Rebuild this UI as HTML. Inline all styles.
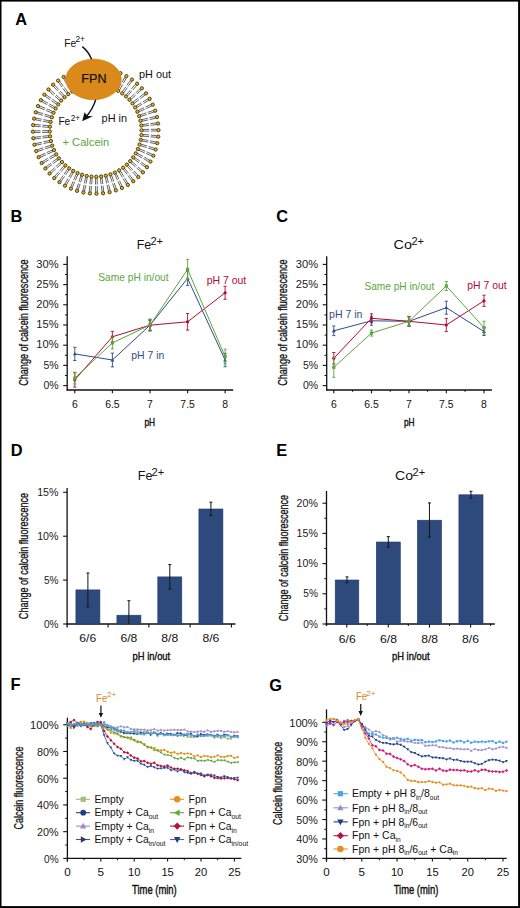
<!DOCTYPE html>
<html><head><meta charset="utf-8"><style>
html,body{margin:0;padding:0;background:#fff;}
svg{display:block;font-family:"Liberation Sans", sans-serif;}
</style></head><body>
<svg width="520" height="908" viewBox="0 0 520 908">
<rect x="0" y="0" width="520" height="908" fill="#000"/><rect x="1.5" y="1.6" width="516.6" height="904.5" fill="#fff"/>
<text x="15.3" y="24.7" font-size="15.7" fill="#000" font-weight="bold" textLength="11.83" lengthAdjust="spacingAndGlyphs">A</text>
<text x="10.5" y="222.2" font-size="15.7" fill="#000" font-weight="bold" textLength="11.83" lengthAdjust="spacingAndGlyphs">B</text>
<text x="276.2" y="222.2" font-size="15.7" fill="#000" font-weight="bold" textLength="11.83" lengthAdjust="spacingAndGlyphs">C</text>
<text x="10.8" y="456.2" font-size="15.7" fill="#000" font-weight="bold" textLength="11.83" lengthAdjust="spacingAndGlyphs">D</text>
<text x="276.2" y="456.2" font-size="15.7" fill="#000" font-weight="bold" textLength="10.93" lengthAdjust="spacingAndGlyphs">E</text>
<text x="10.6" y="690.3" font-size="15.7" fill="#000" font-weight="bold" textLength="10.01" lengthAdjust="spacingAndGlyphs">F</text>
<text x="269.3" y="690.9" font-size="15.7" fill="#000" font-weight="bold" textLength="12.74" lengthAdjust="spacingAndGlyphs">G</text>
<path d="M156.88 129.27L150.88 129.35M156.91 130.97L150.91 131.05M149.28 129.37L143.09 129.45M149.31 131.07L143.11 131.15M156.72 135.67L150.74 135.12M156.56 137.37L150.59 136.82M149.15 134.98L142.98 134.41M149 136.67L142.82 136.1M155.89 142.03L150 140.85M155.55 143.69L149.67 142.52M148.43 140.54L142.35 139.33M148.1 142.21L142.02 141M154.39 148.26L148.66 146.48M153.89 149.88L148.16 148.1M147.14 146L141.22 144.16M146.63 147.62L140.71 145.78M152.26 154.3L146.75 151.93M151.59 155.86L146.07 153.49M145.28 151.29L139.58 148.85M144.6 152.86L138.91 150.41M149.5 160.08L144.27 157.15M148.67 161.56L143.44 158.63M142.87 156.36L137.46 153.33M142.04 157.85L136.63 154.82M146.16 165.54L141.26 162.08M145.18 166.93L140.28 163.47M139.95 161.16L134.89 157.58M138.97 162.54L133.91 158.96M142.26 170.63L137.75 166.67M141.14 171.91L136.63 167.95M136.55 165.62L131.89 161.53M135.43 166.89L130.77 162.8M137.85 175.28L133.78 170.87M136.6 176.43L132.53 172.02M132.69 169.7L128.49 165.14M131.45 170.85L127.24 166.29M132.98 179.44L129.39 174.63M131.62 180.46L128.03 175.65M128.44 173.35L124.73 168.38M127.07 174.37L123.37 169.4M127.7 183.07L124.64 177.91M126.24 183.94L123.18 178.78M123.82 176.54L120.65 171.21M122.36 177.41L119.19 172.08M122.07 186.13L119.56 180.68M120.53 186.84L118.02 181.39M118.9 179.23L116.3 173.6M117.35 179.94L114.76 174.31M116.16 188.59L114.23 182.9M114.55 189.13L112.62 183.45M113.72 181.39L111.73 175.52M112.11 181.93L110.12 176.06M110.01 190.41L108.69 184.56M108.36 190.78L107.03 184.93M108.34 183L106.97 176.95M106.68 183.37L105.32 177.32M103.72 191.58L103.01 185.62M102.03 191.78L101.32 185.82M102.83 184.03L102.1 177.87M101.14 184.23L100.41 178.07M97.33 192.08L97.25 186.08M95.63 192.11L95.55 186.11M97.23 184.48L97.15 178.29M95.53 184.51L95.45 178.31M90.93 191.92L91.48 185.94M89.23 191.76L89.78 185.79M91.62 184.35L92.19 178.18M89.93 184.2L90.5 178.02M84.57 191.09L85.75 185.2M82.91 190.75L84.08 184.87M86.06 183.63L87.27 177.55M84.39 183.3L85.6 177.22M78.34 189.59L80.12 183.86M76.72 189.09L78.5 183.36M80.6 182.34L82.44 176.42M78.98 181.83L80.82 175.91M72.3 187.46L74.67 181.95M70.74 186.79L73.11 181.27M75.31 180.48L77.75 174.78M73.74 179.8L76.19 174.11M66.52 184.7L69.45 179.47M65.04 183.87L67.97 178.64M70.24 178.07L73.27 172.66M68.75 177.24L71.78 171.83M61.06 181.36L64.52 176.46M59.67 180.38L63.13 175.48M65.44 175.15L69.02 170.09M64.06 174.17L67.64 169.11M55.97 177.46L59.93 172.95M54.69 176.34L58.65 171.83M60.98 171.75L65.07 167.09M59.71 170.63L63.8 165.97M51.32 173.05L55.73 168.98M50.17 171.8L54.58 167.73M56.9 167.89L61.46 163.69M55.75 166.65L60.31 162.44M47.16 168.18L51.97 164.59M46.14 166.82L50.95 163.23M53.25 163.64L58.22 159.93M52.23 162.27L57.2 158.57M43.53 162.9L48.69 159.84M42.66 161.44L47.82 158.38M50.06 159.02L55.39 155.85M49.19 157.56L54.52 154.39M40.47 157.27L45.92 154.76M39.76 155.73L45.21 153.22M47.37 154.1L53 151.5M46.66 152.55L52.29 149.96M38.01 151.36L43.7 149.43M37.47 149.75L43.15 147.82M45.21 148.92L51.08 146.93M44.67 147.31L50.54 145.32M36.19 145.21L42.04 143.89M35.82 143.56L41.67 142.23M43.6 143.54L49.65 142.17M43.23 141.88L49.28 140.52M35.02 138.92L40.98 138.21M34.82 137.23L40.78 136.52M42.57 138.03L48.73 137.3M42.37 136.34L48.53 135.61M34.52 132.53L40.52 132.45M34.49 130.83L40.49 130.75M42.12 132.43L48.31 132.35M42.09 130.73L48.29 130.65M34.68 126.13L40.66 126.68M34.84 124.43L40.81 124.98M42.25 126.82L48.42 127.39M42.4 125.13L48.58 125.7M35.51 119.77L41.4 120.95M35.85 118.11L41.73 119.28M42.97 121.26L49.05 122.47M43.3 119.59L49.38 120.8M37.01 113.54L42.74 115.32M37.51 111.92L43.24 113.7M44.26 115.8L50.18 117.64M44.77 114.18L50.69 116.02M39.14 107.5L44.65 109.87M39.81 105.94L45.33 108.31M46.12 110.51L51.82 112.95M46.8 108.94L52.49 111.39M41.9 101.72L47.13 104.65M42.73 100.24L47.96 103.17M48.53 105.44L53.94 108.47M49.36 103.95L54.77 106.98M45.24 96.26L50.14 99.72M46.22 94.87L51.12 98.33M51.45 100.64L56.51 104.22M52.43 99.26L57.49 102.84M49.14 91.17L53.65 95.13M50.26 89.89L54.77 93.85M54.85 96.18L59.51 100.27M55.97 94.91L60.63 99M53.55 86.52L57.62 90.93M54.8 85.37L58.87 89.78M58.71 92.1L62.91 96.66M59.95 90.95L64.16 95.51M58.42 82.36L62.01 87.17M59.78 81.34L63.37 86.15M62.96 88.45L66.67 93.42M64.33 87.43L68.03 92.4M63.7 78.73L66.76 83.89M65.16 77.86L68.22 83.02M67.58 85.26L70.75 90.59M69.04 84.39L72.21 89.72M69.33 75.67L71.84 81.12M70.87 74.96L73.38 80.41M72.5 82.57L75.1 88.2M74.05 81.86L76.64 87.49M75.24 73.21L77.17 78.9M76.85 72.67L78.78 78.35M77.68 80.41L79.67 86.28M79.29 79.87L81.28 85.74M81.39 71.39L82.71 77.24M83.04 71.02L84.37 76.87M83.06 78.8L84.43 84.85M84.72 78.43L86.08 84.48M87.68 70.22L88.39 76.18M89.37 70.02L90.08 75.98M88.57 77.77L89.3 83.93M90.26 77.57L90.99 83.73M94.07 69.72L94.15 75.72M95.77 69.69L95.85 75.69M94.17 77.32L94.25 83.51M95.87 77.29L95.95 83.49M100.47 69.88L99.92 75.86M102.17 70.04L101.62 76.01M99.78 77.45L99.21 83.62M101.47 77.6L100.9 83.78M106.83 70.71L105.65 76.6M108.49 71.05L107.32 76.93M105.34 78.17L104.13 84.25M107.01 78.5L105.8 84.58M113.06 72.21L111.28 77.94M114.68 72.71L112.9 78.44M110.8 79.46L108.96 85.38M112.42 79.97L110.58 85.89M119.1 74.34L116.73 79.85M120.66 75.01L118.29 80.53M116.09 81.32L113.65 87.02M117.66 82L115.21 87.69M124.88 77.1L121.95 82.33M126.36 77.93L123.43 83.16M121.16 83.73L118.13 89.14M122.65 84.56L119.62 89.97M130.34 80.44L126.88 85.34M131.73 81.42L128.27 86.32M125.96 86.65L122.38 91.71M127.34 87.63L123.76 92.69M135.43 84.34L131.47 88.85M136.71 85.46L132.75 89.97M130.42 90.05L126.33 94.71M131.69 91.17L127.6 95.83M140.08 88.75L135.67 92.82M141.23 90L136.82 94.07M134.5 93.91L129.94 98.11M135.65 95.15L131.09 99.36M144.24 93.62L139.43 97.21M145.26 94.98L140.45 98.57M138.15 98.16L133.18 101.87M139.17 99.53L134.2 103.23M147.87 98.9L142.71 101.96M148.74 100.36L143.58 103.42M141.34 102.78L136.01 105.95M142.21 104.24L136.88 107.41M150.93 104.53L145.48 107.04M151.64 106.07L146.19 108.58M144.03 107.7L138.4 110.3M144.74 109.25L139.11 111.84M153.39 110.44L147.7 112.37M153.93 112.05L148.25 113.98M146.19 112.88L140.32 114.87M146.73 114.49L140.86 116.48M155.21 116.59L149.36 117.91M155.58 118.24L149.73 119.57M147.8 118.26L141.75 119.63M148.17 119.92L142.12 121.28M156.38 122.88L150.42 123.59M156.58 124.57L150.62 125.28M148.83 123.77L142.67 124.5M149.03 125.46L142.87 126.19" stroke="#333" stroke-width="0.75" fill="none"/>
<g fill="#efb400" stroke="#141414" stroke-width="0.75"><circle cx="158.49" cy="130.1" r="1.65"/><circle cx="141.6" cy="130.32" r="1.65"/><circle cx="158.23" cy="136.67" r="1.65"/><circle cx="141.41" cy="135.12" r="1.65"/><circle cx="157.29" cy="143.17" r="1.65"/><circle cx="140.71" cy="139.87" r="1.65"/><circle cx="155.67" cy="149.54" r="1.65"/><circle cx="139.53" cy="144.53" r="1.65"/><circle cx="153.39" cy="155.71" r="1.65"/><circle cx="137.87" cy="149.03" r="1.65"/><circle cx="150.48" cy="161.6" r="1.65"/><circle cx="135.74" cy="153.34" r="1.65"/><circle cx="146.97" cy="167.16" r="1.65"/><circle cx="133.17" cy="157.4" r="1.65"/><circle cx="142.9" cy="172.32" r="1.65"/><circle cx="130.2" cy="161.18" r="1.65"/><circle cx="138.31" cy="177.03" r="1.65"/><circle cx="126.85" cy="164.62" r="1.65"/><circle cx="133.26" cy="181.23" r="1.65"/><circle cx="123.15" cy="167.69" r="1.65"/><circle cx="127.79" cy="184.88" r="1.65"/><circle cx="119.15" cy="170.35" r="1.65"/><circle cx="121.97" cy="187.94" r="1.65"/><circle cx="114.9" cy="172.59" r="1.65"/><circle cx="115.87" cy="190.37" r="1.65"/><circle cx="110.44" cy="174.37" r="1.65"/><circle cx="109.54" cy="192.16" r="1.65"/><circle cx="105.81" cy="175.67" r="1.65"/><circle cx="103.06" cy="193.27" r="1.65"/><circle cx="101.08" cy="176.48" r="1.65"/><circle cx="96.5" cy="193.69" r="1.65"/><circle cx="96.28" cy="176.8" r="1.65"/><circle cx="89.93" cy="193.43" r="1.65"/><circle cx="91.48" cy="176.61" r="1.65"/><circle cx="83.43" cy="192.49" r="1.65"/><circle cx="86.73" cy="175.91" r="1.65"/><circle cx="77.06" cy="190.87" r="1.65"/><circle cx="82.07" cy="174.73" r="1.65"/><circle cx="70.89" cy="188.59" r="1.65"/><circle cx="77.57" cy="173.07" r="1.65"/><circle cx="65" cy="185.68" r="1.65"/><circle cx="73.26" cy="170.94" r="1.65"/><circle cx="59.44" cy="182.17" r="1.65"/><circle cx="69.2" cy="168.37" r="1.65"/><circle cx="54.28" cy="178.1" r="1.65"/><circle cx="65.42" cy="165.4" r="1.65"/><circle cx="49.57" cy="173.51" r="1.65"/><circle cx="61.98" cy="162.05" r="1.65"/><circle cx="45.37" cy="168.46" r="1.65"/><circle cx="58.91" cy="158.35" r="1.65"/><circle cx="41.72" cy="162.99" r="1.65"/><circle cx="56.25" cy="154.35" r="1.65"/><circle cx="38.66" cy="157.17" r="1.65"/><circle cx="54.01" cy="150.1" r="1.65"/><circle cx="36.23" cy="151.07" r="1.65"/><circle cx="52.23" cy="145.64" r="1.65"/><circle cx="34.44" cy="144.74" r="1.65"/><circle cx="50.93" cy="141.01" r="1.65"/><circle cx="33.33" cy="138.26" r="1.65"/><circle cx="50.12" cy="136.28" r="1.65"/><circle cx="32.91" cy="131.7" r="1.65"/><circle cx="49.8" cy="131.48" r="1.65"/><circle cx="33.17" cy="125.13" r="1.65"/><circle cx="49.99" cy="126.68" r="1.65"/><circle cx="34.11" cy="118.63" r="1.65"/><circle cx="50.69" cy="121.93" r="1.65"/><circle cx="35.73" cy="112.26" r="1.65"/><circle cx="51.87" cy="117.27" r="1.65"/><circle cx="38.01" cy="106.09" r="1.65"/><circle cx="53.53" cy="112.77" r="1.65"/><circle cx="40.92" cy="100.2" r="1.65"/><circle cx="55.66" cy="108.46" r="1.65"/><circle cx="44.43" cy="94.64" r="1.65"/><circle cx="58.23" cy="104.4" r="1.65"/><circle cx="48.5" cy="89.48" r="1.65"/><circle cx="61.2" cy="100.62" r="1.65"/><circle cx="53.09" cy="84.77" r="1.65"/><circle cx="64.55" cy="97.18" r="1.65"/><circle cx="58.14" cy="80.57" r="1.65"/><circle cx="68.25" cy="94.11" r="1.65"/><circle cx="63.61" cy="76.92" r="1.65"/><circle cx="72.25" cy="91.45" r="1.65"/><circle cx="69.43" cy="73.86" r="1.65"/><circle cx="76.5" cy="89.21" r="1.65"/><circle cx="75.53" cy="71.43" r="1.65"/><circle cx="80.96" cy="87.43" r="1.65"/><circle cx="81.86" cy="69.64" r="1.65"/><circle cx="85.59" cy="86.13" r="1.65"/><circle cx="88.34" cy="68.53" r="1.65"/><circle cx="90.32" cy="85.32" r="1.65"/><circle cx="94.9" cy="68.11" r="1.65"/><circle cx="95.12" cy="85" r="1.65"/><circle cx="101.47" cy="68.37" r="1.65"/><circle cx="99.92" cy="85.19" r="1.65"/><circle cx="107.97" cy="69.31" r="1.65"/><circle cx="104.67" cy="85.89" r="1.65"/><circle cx="114.34" cy="70.93" r="1.65"/><circle cx="109.33" cy="87.07" r="1.65"/><circle cx="120.51" cy="73.21" r="1.65"/><circle cx="113.83" cy="88.73" r="1.65"/><circle cx="126.4" cy="76.12" r="1.65"/><circle cx="118.14" cy="90.86" r="1.65"/><circle cx="131.96" cy="79.63" r="1.65"/><circle cx="122.2" cy="93.43" r="1.65"/><circle cx="137.12" cy="83.7" r="1.65"/><circle cx="125.98" cy="96.4" r="1.65"/><circle cx="141.83" cy="88.29" r="1.65"/><circle cx="129.42" cy="99.75" r="1.65"/><circle cx="146.03" cy="93.34" r="1.65"/><circle cx="132.49" cy="103.45" r="1.65"/><circle cx="149.68" cy="98.81" r="1.65"/><circle cx="135.15" cy="107.45" r="1.65"/><circle cx="152.74" cy="104.63" r="1.65"/><circle cx="137.39" cy="111.7" r="1.65"/><circle cx="155.17" cy="110.73" r="1.65"/><circle cx="139.17" cy="116.16" r="1.65"/><circle cx="156.96" cy="117.06" r="1.65"/><circle cx="140.47" cy="120.79" r="1.65"/><circle cx="158.07" cy="123.54" r="1.65"/><circle cx="141.28" cy="125.52" r="1.65"/></g>
<ellipse cx="93.5" cy="79.4" rx="27.8" ry="20.3" fill="#da891b" stroke="#d3810f" stroke-width="0.6"/>
<text x="93.9" y="83.3" font-size="12.3" fill="#111" text-anchor="middle" textLength="25.2" lengthAdjust="spacingAndGlyphs" stroke="#111" stroke-width="0.2">FPN</text>
<path d="M82.3 46.6 Q88.5 51.5 91.6 59.3" stroke="#111" stroke-width="1.5" fill="none"/>
<path d="M95.7 99.6 Q93 109 85.5 117.5" stroke="#111" stroke-width="1.5" fill="none"/>
<path d="M82.2 121.2 L84.5 112.2 L87.4 116.0 L92.9 116.2 Z" fill="#111"/>
<text x="64.3" y="46.5" font-size="10.2" fill="#111">Fe</text>
<text x="75.4" y="42.4" font-size="8.4" fill="#111">2+</text>
<text x="58.4" y="124.5" font-size="10.2" fill="#111">Fe</text>
<text x="70.7" y="120.8" font-size="8.4" fill="#111">2+</text>
<text x="139" y="77.8" font-size="10.3" fill="#111" textLength="32" lengthAdjust="spacingAndGlyphs">pH out</text>
<text x="101.6" y="122.1" font-size="10.5" fill="#111" textLength="25.4" lengthAdjust="spacingAndGlyphs">pH in</text>
<text x="62.5" y="145.5" font-size="10.9" fill="#5aa53c" textLength="46.8" lengthAdjust="spacingAndGlyphs">+ Calcein</text>
<line x1="67.2" y1="256.3" x2="67.2" y2="390.6" stroke="#111" stroke-width="1.3"/>
<line x1="66.6" y1="390" x2="233.2" y2="390" stroke="#111" stroke-width="1.3"/>
<line x1="63.2" y1="385.6" x2="67.2" y2="385.6" stroke="#111" stroke-width="1.1"/>
<text x="58.6" y="388.7" font-size="10.3" fill="#1a1a1a" text-anchor="end" textLength="15.2" lengthAdjust="spacingAndGlyphs">0%</text>
<line x1="63.2" y1="365.4" x2="67.2" y2="365.4" stroke="#111" stroke-width="1.1"/>
<text x="58.6" y="368.5" font-size="10.3" fill="#1a1a1a" text-anchor="end" textLength="15.2" lengthAdjust="spacingAndGlyphs">5%</text>
<line x1="63.2" y1="345.2" x2="67.2" y2="345.2" stroke="#111" stroke-width="1.1"/>
<text x="58.6" y="348.3" font-size="10.3" fill="#1a1a1a" text-anchor="end" textLength="22.3" lengthAdjust="spacingAndGlyphs">10%</text>
<line x1="63.2" y1="325" x2="67.2" y2="325" stroke="#111" stroke-width="1.1"/>
<text x="58.6" y="328.1" font-size="10.3" fill="#1a1a1a" text-anchor="end" textLength="22.3" lengthAdjust="spacingAndGlyphs">15%</text>
<line x1="63.2" y1="304.8" x2="67.2" y2="304.8" stroke="#111" stroke-width="1.1"/>
<text x="58.6" y="307.9" font-size="10.3" fill="#1a1a1a" text-anchor="end" textLength="22.3" lengthAdjust="spacingAndGlyphs">20%</text>
<line x1="63.2" y1="284.6" x2="67.2" y2="284.6" stroke="#111" stroke-width="1.1"/>
<text x="58.6" y="287.7" font-size="10.3" fill="#1a1a1a" text-anchor="end" textLength="22.3" lengthAdjust="spacingAndGlyphs">25%</text>
<line x1="63.2" y1="264.4" x2="67.2" y2="264.4" stroke="#111" stroke-width="1.1"/>
<text x="58.6" y="267.5" font-size="10.3" fill="#1a1a1a" text-anchor="end" textLength="22.3" lengthAdjust="spacingAndGlyphs">30%</text>
<line x1="65" y1="375.5" x2="67.2" y2="375.5" stroke="#111" stroke-width="1"/>
<line x1="65" y1="355.3" x2="67.2" y2="355.3" stroke="#111" stroke-width="1"/>
<line x1="65" y1="335.1" x2="67.2" y2="335.1" stroke="#111" stroke-width="1"/>
<line x1="65" y1="314.9" x2="67.2" y2="314.9" stroke="#111" stroke-width="1"/>
<line x1="65" y1="294.7" x2="67.2" y2="294.7" stroke="#111" stroke-width="1"/>
<line x1="65" y1="274.5" x2="67.2" y2="274.5" stroke="#111" stroke-width="1"/>
<line x1="74.8" y1="390" x2="74.8" y2="393.3" stroke="#111" stroke-width="1.1"/>
<text x="74.8" y="407.6" font-size="10.4" fill="#111" text-anchor="middle">6</text>
<line x1="112.4" y1="390" x2="112.4" y2="393.3" stroke="#111" stroke-width="1.1"/>
<text x="112.4" y="407.6" font-size="10.4" fill="#111" text-anchor="middle">6.5</text>
<line x1="150" y1="390" x2="150" y2="393.3" stroke="#111" stroke-width="1.1"/>
<text x="150" y="407.6" font-size="10.4" fill="#111" text-anchor="middle">7</text>
<line x1="187.6" y1="390" x2="187.6" y2="393.3" stroke="#111" stroke-width="1.1"/>
<text x="187.6" y="407.6" font-size="10.4" fill="#111" text-anchor="middle">7.5</text>
<line x1="225.1" y1="390" x2="225.1" y2="393.3" stroke="#111" stroke-width="1.1"/>
<text x="225.1" y="407.6" font-size="10.4" fill="#111" text-anchor="middle">8</text>
<polyline points="74.8,353.9 112.4,360 150,325.2 187.6,278.4 225.1,360" fill="none" stroke="#2f4c8c" stroke-width="1" stroke-linejoin="round"/>
<line x1="74.8" y1="347.3" x2="74.8" y2="360.5" stroke="#2f4c8c" stroke-width="0.9"/>
<line x1="73.2" y1="347.3" x2="76.4" y2="347.3" stroke="#2f4c8c" stroke-width="0.9"/>
<line x1="73.2" y1="360.5" x2="76.4" y2="360.5" stroke="#2f4c8c" stroke-width="0.9"/>
<path d="M74.8 351.9L76.7 355.3L72.9 355.3Z" fill="#2f4c8c"/>
<line x1="112.4" y1="353.1" x2="112.4" y2="366.9" stroke="#2f4c8c" stroke-width="0.9"/>
<line x1="110.8" y1="353.1" x2="114" y2="353.1" stroke="#2f4c8c" stroke-width="0.9"/>
<line x1="110.8" y1="366.9" x2="114" y2="366.9" stroke="#2f4c8c" stroke-width="0.9"/>
<path d="M112.4 358L114.3 361.4L110.5 361.4Z" fill="#2f4c8c"/>
<line x1="150" y1="319.7" x2="150" y2="330.7" stroke="#2f4c8c" stroke-width="0.9"/>
<line x1="148.4" y1="319.7" x2="151.6" y2="319.7" stroke="#2f4c8c" stroke-width="0.9"/>
<line x1="148.4" y1="330.7" x2="151.6" y2="330.7" stroke="#2f4c8c" stroke-width="0.9"/>
<path d="M150 323.2L151.9 326.6L148.1 326.6Z" fill="#2f4c8c"/>
<line x1="187.6" y1="271.4" x2="187.6" y2="285.4" stroke="#2f4c8c" stroke-width="0.9"/>
<line x1="186" y1="271.4" x2="189.2" y2="271.4" stroke="#2f4c8c" stroke-width="0.9"/>
<line x1="186" y1="285.4" x2="189.2" y2="285.4" stroke="#2f4c8c" stroke-width="0.9"/>
<path d="M187.6 276.4L189.5 279.8L185.7 279.8Z" fill="#2f4c8c"/>
<line x1="225.1" y1="353.3" x2="225.1" y2="366.7" stroke="#2f4c8c" stroke-width="0.9"/>
<line x1="223.5" y1="353.3" x2="226.7" y2="353.3" stroke="#2f4c8c" stroke-width="0.9"/>
<line x1="223.5" y1="366.7" x2="226.7" y2="366.7" stroke="#2f4c8c" stroke-width="0.9"/>
<path d="M225.1 358L227 361.4L223.2 361.4Z" fill="#2f4c8c"/>
<polyline points="74.8,379.9 112.4,336.8 150,325.2 187.6,321.8 225.1,292.8" fill="none" stroke="#b30a34" stroke-width="1" stroke-linejoin="round"/>
<line x1="74.8" y1="372.7" x2="74.8" y2="387.1" stroke="#b30a34" stroke-width="0.9"/>
<line x1="73.2" y1="372.7" x2="76.4" y2="372.7" stroke="#b30a34" stroke-width="0.9"/>
<line x1="73.2" y1="387.1" x2="76.4" y2="387.1" stroke="#b30a34" stroke-width="0.9"/>
<circle cx="74.8" cy="379.9" r="1.6" fill="#b30a34"/>
<line x1="112.4" y1="331.4" x2="112.4" y2="342.2" stroke="#b30a34" stroke-width="0.9"/>
<line x1="110.8" y1="331.4" x2="114" y2="331.4" stroke="#b30a34" stroke-width="0.9"/>
<line x1="110.8" y1="342.2" x2="114" y2="342.2" stroke="#b30a34" stroke-width="0.9"/>
<circle cx="112.4" cy="336.8" r="1.6" fill="#b30a34"/>
<line x1="150" y1="320.2" x2="150" y2="330.2" stroke="#b30a34" stroke-width="0.9"/>
<line x1="148.4" y1="320.2" x2="151.6" y2="320.2" stroke="#b30a34" stroke-width="0.9"/>
<line x1="148.4" y1="330.2" x2="151.6" y2="330.2" stroke="#b30a34" stroke-width="0.9"/>
<circle cx="150" cy="325.2" r="1.6" fill="#b30a34"/>
<line x1="187.6" y1="313.5" x2="187.6" y2="330.1" stroke="#b30a34" stroke-width="0.9"/>
<line x1="186" y1="313.5" x2="189.2" y2="313.5" stroke="#b30a34" stroke-width="0.9"/>
<line x1="186" y1="330.1" x2="189.2" y2="330.1" stroke="#b30a34" stroke-width="0.9"/>
<circle cx="187.6" cy="321.8" r="1.6" fill="#b30a34"/>
<line x1="225.1" y1="286.3" x2="225.1" y2="299.3" stroke="#b30a34" stroke-width="0.9"/>
<line x1="223.5" y1="286.3" x2="226.7" y2="286.3" stroke="#b30a34" stroke-width="0.9"/>
<line x1="223.5" y1="299.3" x2="226.7" y2="299.3" stroke="#b30a34" stroke-width="0.9"/>
<circle cx="225.1" cy="292.8" r="1.6" fill="#b30a34"/>
<polyline points="74.8,378.1 112.4,342.9 150,325.1 187.6,269.4 225.1,356.5" fill="none" stroke="#5ba63a" stroke-width="1" stroke-linejoin="round"/>
<line x1="74.8" y1="372.2" x2="74.8" y2="384" stroke="#5ba63a" stroke-width="0.9"/>
<line x1="73.2" y1="372.2" x2="76.4" y2="372.2" stroke="#5ba63a" stroke-width="0.9"/>
<line x1="73.2" y1="384" x2="76.4" y2="384" stroke="#5ba63a" stroke-width="0.9"/>
<rect x="73.2" y="376.5" width="3.2" height="3.2" fill="#5ba63a"/>
<line x1="112.4" y1="336.9" x2="112.4" y2="348.9" stroke="#5ba63a" stroke-width="0.9"/>
<line x1="110.8" y1="336.9" x2="114" y2="336.9" stroke="#5ba63a" stroke-width="0.9"/>
<line x1="110.8" y1="348.9" x2="114" y2="348.9" stroke="#5ba63a" stroke-width="0.9"/>
<rect x="110.8" y="341.3" width="3.2" height="3.2" fill="#5ba63a"/>
<line x1="150" y1="319" x2="150" y2="331.2" stroke="#5ba63a" stroke-width="0.9"/>
<line x1="148.4" y1="319" x2="151.6" y2="319" stroke="#5ba63a" stroke-width="0.9"/>
<line x1="148.4" y1="331.2" x2="151.6" y2="331.2" stroke="#5ba63a" stroke-width="0.9"/>
<rect x="148.4" y="323.5" width="3.2" height="3.2" fill="#5ba63a"/>
<line x1="187.6" y1="259.4" x2="187.6" y2="279.4" stroke="#5ba63a" stroke-width="0.9"/>
<line x1="186" y1="259.4" x2="189.2" y2="259.4" stroke="#5ba63a" stroke-width="0.9"/>
<line x1="186" y1="279.4" x2="189.2" y2="279.4" stroke="#5ba63a" stroke-width="0.9"/>
<rect x="186" y="267.8" width="3.2" height="3.2" fill="#5ba63a"/>
<line x1="225.1" y1="349.2" x2="225.1" y2="363.8" stroke="#5ba63a" stroke-width="0.9"/>
<line x1="223.5" y1="349.2" x2="226.7" y2="349.2" stroke="#5ba63a" stroke-width="0.9"/>
<line x1="223.5" y1="363.8" x2="226.7" y2="363.8" stroke="#5ba63a" stroke-width="0.9"/>
<rect x="223.5" y="354.9" width="3.2" height="3.2" fill="#5ba63a"/>
<text x="98.3" y="280.8" font-size="10.2" fill="#5ba63a" textLength="70.3" lengthAdjust="spacingAndGlyphs">Same pH in/out</text>
<text x="206.7" y="283.7" font-size="10.2" fill="#b30a34" textLength="39.5" lengthAdjust="spacingAndGlyphs">pH 7 out</text>
<text x="131.3" y="358.7" font-size="10.2" fill="#2f4c8c" textLength="33" lengthAdjust="spacingAndGlyphs">pH 7 in</text>
<text transform="translate(27.7,322.6) rotate(-90)" x="0" y="0" font-size="12.2" fill="#111" text-anchor="middle" textLength="126.3" lengthAdjust="spacingAndGlyphs" stroke="#111" stroke-width="0.3">Change of calcein fluorescence</text>
<text x="149.8" y="426" font-size="10.9" fill="#111" text-anchor="middle" textLength="10.6" lengthAdjust="spacingAndGlyphs" stroke="#111" stroke-width="0.4">pH</text>
<text x="136.7" y="248.6" font-size="12.6" fill="#111" textLength="14.4" lengthAdjust="spacingAndGlyphs">Fe</text>
<text x="150.4" y="245.3" font-size="10.4" fill="#111" textLength="12.6" lengthAdjust="spacingAndGlyphs">2+</text>
<line x1="326.7" y1="256.3" x2="326.7" y2="390.6" stroke="#111" stroke-width="1.3"/>
<line x1="326.1" y1="390" x2="491.9" y2="390" stroke="#111" stroke-width="1.3"/>
<line x1="322.7" y1="385.6" x2="326.7" y2="385.6" stroke="#111" stroke-width="1.1"/>
<text x="318.1" y="388.7" font-size="10.3" fill="#1a1a1a" text-anchor="end" textLength="15.2" lengthAdjust="spacingAndGlyphs">0%</text>
<line x1="322.7" y1="365.4" x2="326.7" y2="365.4" stroke="#111" stroke-width="1.1"/>
<text x="318.1" y="368.5" font-size="10.3" fill="#1a1a1a" text-anchor="end" textLength="15.2" lengthAdjust="spacingAndGlyphs">5%</text>
<line x1="322.7" y1="345.2" x2="326.7" y2="345.2" stroke="#111" stroke-width="1.1"/>
<text x="318.1" y="348.3" font-size="10.3" fill="#1a1a1a" text-anchor="end" textLength="22.3" lengthAdjust="spacingAndGlyphs">10%</text>
<line x1="322.7" y1="325" x2="326.7" y2="325" stroke="#111" stroke-width="1.1"/>
<text x="318.1" y="328.1" font-size="10.3" fill="#1a1a1a" text-anchor="end" textLength="22.3" lengthAdjust="spacingAndGlyphs">15%</text>
<line x1="322.7" y1="304.8" x2="326.7" y2="304.8" stroke="#111" stroke-width="1.1"/>
<text x="318.1" y="307.9" font-size="10.3" fill="#1a1a1a" text-anchor="end" textLength="22.3" lengthAdjust="spacingAndGlyphs">20%</text>
<line x1="322.7" y1="284.6" x2="326.7" y2="284.6" stroke="#111" stroke-width="1.1"/>
<text x="318.1" y="287.7" font-size="10.3" fill="#1a1a1a" text-anchor="end" textLength="22.3" lengthAdjust="spacingAndGlyphs">25%</text>
<line x1="322.7" y1="264.4" x2="326.7" y2="264.4" stroke="#111" stroke-width="1.1"/>
<text x="318.1" y="267.5" font-size="10.3" fill="#1a1a1a" text-anchor="end" textLength="22.3" lengthAdjust="spacingAndGlyphs">30%</text>
<line x1="324.5" y1="375.5" x2="326.7" y2="375.5" stroke="#111" stroke-width="1"/>
<line x1="324.5" y1="355.3" x2="326.7" y2="355.3" stroke="#111" stroke-width="1"/>
<line x1="324.5" y1="335.1" x2="326.7" y2="335.1" stroke="#111" stroke-width="1"/>
<line x1="324.5" y1="314.9" x2="326.7" y2="314.9" stroke="#111" stroke-width="1"/>
<line x1="324.5" y1="294.7" x2="326.7" y2="294.7" stroke="#111" stroke-width="1"/>
<line x1="324.5" y1="274.5" x2="326.7" y2="274.5" stroke="#111" stroke-width="1"/>
<line x1="333.8" y1="390" x2="333.8" y2="393.3" stroke="#111" stroke-width="1.1"/>
<text x="333.8" y="407.6" font-size="10.4" fill="#111" text-anchor="middle">6</text>
<line x1="371.5" y1="390" x2="371.5" y2="393.3" stroke="#111" stroke-width="1.1"/>
<text x="371.5" y="407.6" font-size="10.4" fill="#111" text-anchor="middle">6.5</text>
<line x1="409" y1="390" x2="409" y2="393.3" stroke="#111" stroke-width="1.1"/>
<text x="409" y="407.6" font-size="10.4" fill="#111" text-anchor="middle">7</text>
<line x1="446.3" y1="390" x2="446.3" y2="393.3" stroke="#111" stroke-width="1.1"/>
<text x="446.3" y="407.6" font-size="10.4" fill="#111" text-anchor="middle">7.5</text>
<line x1="484" y1="390" x2="484" y2="393.3" stroke="#111" stroke-width="1.1"/>
<text x="484" y="407.6" font-size="10.4" fill="#111" text-anchor="middle">8</text>
<line x1="352.65" y1="390" x2="352.65" y2="391.8" stroke="#111" stroke-width="1"/>
<line x1="390.25" y1="390" x2="390.25" y2="391.8" stroke="#111" stroke-width="1"/>
<line x1="427.65" y1="390" x2="427.65" y2="391.8" stroke="#111" stroke-width="1"/>
<line x1="465.15" y1="390" x2="465.15" y2="391.8" stroke="#111" stroke-width="1"/>
<polyline points="333.8,330.8 371.5,320.8 409,321.3 446.3,307.7 484,331.5" fill="none" stroke="#2f4c8c" stroke-width="1" stroke-linejoin="round"/>
<line x1="333.8" y1="326" x2="333.8" y2="335.6" stroke="#2f4c8c" stroke-width="0.9"/>
<line x1="332.2" y1="326" x2="335.4" y2="326" stroke="#2f4c8c" stroke-width="0.9"/>
<line x1="332.2" y1="335.6" x2="335.4" y2="335.6" stroke="#2f4c8c" stroke-width="0.9"/>
<path d="M333.8 328.8L335.7 332.2L331.9 332.2Z" fill="#2f4c8c"/>
<line x1="371.5" y1="316.3" x2="371.5" y2="325.3" stroke="#2f4c8c" stroke-width="0.9"/>
<line x1="369.9" y1="316.3" x2="373.1" y2="316.3" stroke="#2f4c8c" stroke-width="0.9"/>
<line x1="369.9" y1="325.3" x2="373.1" y2="325.3" stroke="#2f4c8c" stroke-width="0.9"/>
<path d="M371.5 318.8L373.4 322.2L369.6 322.2Z" fill="#2f4c8c"/>
<line x1="409" y1="316.3" x2="409" y2="326.3" stroke="#2f4c8c" stroke-width="0.9"/>
<line x1="407.4" y1="316.3" x2="410.6" y2="316.3" stroke="#2f4c8c" stroke-width="0.9"/>
<line x1="407.4" y1="326.3" x2="410.6" y2="326.3" stroke="#2f4c8c" stroke-width="0.9"/>
<path d="M409 319.3L410.9 322.7L407.1 322.7Z" fill="#2f4c8c"/>
<line x1="446.3" y1="301.2" x2="446.3" y2="314.2" stroke="#2f4c8c" stroke-width="0.9"/>
<line x1="444.7" y1="301.2" x2="447.9" y2="301.2" stroke="#2f4c8c" stroke-width="0.9"/>
<line x1="444.7" y1="314.2" x2="447.9" y2="314.2" stroke="#2f4c8c" stroke-width="0.9"/>
<path d="M446.3 305.7L448.2 309.1L444.4 309.1Z" fill="#2f4c8c"/>
<line x1="484" y1="327.5" x2="484" y2="335.5" stroke="#2f4c8c" stroke-width="0.9"/>
<line x1="482.4" y1="327.5" x2="485.6" y2="327.5" stroke="#2f4c8c" stroke-width="0.9"/>
<line x1="482.4" y1="335.5" x2="485.6" y2="335.5" stroke="#2f4c8c" stroke-width="0.9"/>
<path d="M484 329.5L485.9 332.9L482.1 332.9Z" fill="#2f4c8c"/>
<polyline points="333.8,358.3 371.5,318.3 409,321.3 446.3,325 484,300.8" fill="none" stroke="#b30a34" stroke-width="1" stroke-linejoin="round"/>
<line x1="333.8" y1="352.5" x2="333.8" y2="364.1" stroke="#b30a34" stroke-width="0.9"/>
<line x1="332.2" y1="352.5" x2="335.4" y2="352.5" stroke="#b30a34" stroke-width="0.9"/>
<line x1="332.2" y1="364.1" x2="335.4" y2="364.1" stroke="#b30a34" stroke-width="0.9"/>
<circle cx="333.8" cy="358.3" r="1.6" fill="#b30a34"/>
<line x1="371.5" y1="313.8" x2="371.5" y2="322.8" stroke="#b30a34" stroke-width="0.9"/>
<line x1="369.9" y1="313.8" x2="373.1" y2="313.8" stroke="#b30a34" stroke-width="0.9"/>
<line x1="369.9" y1="322.8" x2="373.1" y2="322.8" stroke="#b30a34" stroke-width="0.9"/>
<circle cx="371.5" cy="318.3" r="1.6" fill="#b30a34"/>
<line x1="409" y1="316.8" x2="409" y2="325.8" stroke="#b30a34" stroke-width="0.9"/>
<line x1="407.4" y1="316.8" x2="410.6" y2="316.8" stroke="#b30a34" stroke-width="0.9"/>
<line x1="407.4" y1="325.8" x2="410.6" y2="325.8" stroke="#b30a34" stroke-width="0.9"/>
<circle cx="409" cy="321.3" r="1.6" fill="#b30a34"/>
<line x1="446.3" y1="318.4" x2="446.3" y2="331.6" stroke="#b30a34" stroke-width="0.9"/>
<line x1="444.7" y1="318.4" x2="447.9" y2="318.4" stroke="#b30a34" stroke-width="0.9"/>
<line x1="444.7" y1="331.6" x2="447.9" y2="331.6" stroke="#b30a34" stroke-width="0.9"/>
<circle cx="446.3" cy="325" r="1.6" fill="#b30a34"/>
<line x1="484" y1="295.2" x2="484" y2="306.4" stroke="#b30a34" stroke-width="0.9"/>
<line x1="482.4" y1="295.2" x2="485.6" y2="295.2" stroke="#b30a34" stroke-width="0.9"/>
<line x1="482.4" y1="306.4" x2="485.6" y2="306.4" stroke="#b30a34" stroke-width="0.9"/>
<circle cx="484" cy="300.8" r="1.6" fill="#b30a34"/>
<polyline points="333.8,367.3 371.5,333.1 409,321.3 446.3,286 484,327.7" fill="none" stroke="#5ba63a" stroke-width="1" stroke-linejoin="round"/>
<line x1="333.8" y1="357.3" x2="333.8" y2="377.3" stroke="#5ba63a" stroke-width="0.9"/>
<line x1="332.2" y1="357.3" x2="335.4" y2="357.3" stroke="#5ba63a" stroke-width="0.9"/>
<line x1="332.2" y1="377.3" x2="335.4" y2="377.3" stroke="#5ba63a" stroke-width="0.9"/>
<rect x="332.2" y="365.7" width="3.2" height="3.2" fill="#5ba63a"/>
<line x1="371.5" y1="330.1" x2="371.5" y2="336.1" stroke="#5ba63a" stroke-width="0.9"/>
<line x1="369.9" y1="330.1" x2="373.1" y2="330.1" stroke="#5ba63a" stroke-width="0.9"/>
<line x1="369.9" y1="336.1" x2="373.1" y2="336.1" stroke="#5ba63a" stroke-width="0.9"/>
<rect x="369.9" y="331.5" width="3.2" height="3.2" fill="#5ba63a"/>
<line x1="409" y1="316.8" x2="409" y2="325.8" stroke="#5ba63a" stroke-width="0.9"/>
<line x1="407.4" y1="316.8" x2="410.6" y2="316.8" stroke="#5ba63a" stroke-width="0.9"/>
<line x1="407.4" y1="325.8" x2="410.6" y2="325.8" stroke="#5ba63a" stroke-width="0.9"/>
<rect x="407.4" y="319.7" width="3.2" height="3.2" fill="#5ba63a"/>
<line x1="446.3" y1="281.5" x2="446.3" y2="290.5" stroke="#5ba63a" stroke-width="0.9"/>
<line x1="444.7" y1="281.5" x2="447.9" y2="281.5" stroke="#5ba63a" stroke-width="0.9"/>
<line x1="444.7" y1="290.5" x2="447.9" y2="290.5" stroke="#5ba63a" stroke-width="0.9"/>
<rect x="444.7" y="284.4" width="3.2" height="3.2" fill="#5ba63a"/>
<line x1="484" y1="321.2" x2="484" y2="334.2" stroke="#5ba63a" stroke-width="0.9"/>
<line x1="482.4" y1="321.2" x2="485.6" y2="321.2" stroke="#5ba63a" stroke-width="0.9"/>
<line x1="482.4" y1="334.2" x2="485.6" y2="334.2" stroke="#5ba63a" stroke-width="0.9"/>
<rect x="482.4" y="326.1" width="3.2" height="3.2" fill="#5ba63a"/>
<text x="364.4" y="289.6" font-size="10.2" fill="#5ba63a" textLength="69.9" lengthAdjust="spacingAndGlyphs">Same pH in/out</text>
<text x="467.3" y="288.5" font-size="10.2" fill="#b30a34" textLength="39.3" lengthAdjust="spacingAndGlyphs">pH 7 out</text>
<text x="329.1" y="317.7" font-size="10.2" fill="#2f4c8c" textLength="33.3" lengthAdjust="spacingAndGlyphs">pH 7 in</text>
<text transform="translate(287.2,322.6) rotate(-90)" x="0" y="0" font-size="12.2" fill="#111" text-anchor="middle" textLength="126.3" lengthAdjust="spacingAndGlyphs" stroke="#111" stroke-width="0.3">Change of calcein fluorescence</text>
<text x="409.2" y="426" font-size="10.9" fill="#111" text-anchor="middle" textLength="10.6" lengthAdjust="spacingAndGlyphs" stroke="#111" stroke-width="0.4">pH</text>
<text x="393.6" y="248.6" font-size="12.6" fill="#111" textLength="18.4" lengthAdjust="spacingAndGlyphs">Co</text>
<text x="411.4" y="245.1" font-size="10.4" fill="#111" textLength="12.6" lengthAdjust="spacingAndGlyphs">2+</text>
<line x1="67.1" y1="488.1" x2="67.1" y2="627.6" stroke="#111" stroke-width="1.3"/>
<line x1="66.5" y1="624" x2="235.4" y2="624" stroke="#111" stroke-width="1.3"/>
<line x1="63.1" y1="624" x2="67.1" y2="624" stroke="#111" stroke-width="1.1"/>
<text x="58.5" y="627.6" font-size="10.3" fill="#1a1a1a" text-anchor="end" textLength="14.6" lengthAdjust="spacingAndGlyphs">0%</text>
<line x1="63.1" y1="580.1" x2="67.1" y2="580.1" stroke="#111" stroke-width="1.1"/>
<text x="58.5" y="583.7" font-size="10.3" fill="#1a1a1a" text-anchor="end" textLength="14.6" lengthAdjust="spacingAndGlyphs">5%</text>
<line x1="63.1" y1="536.2" x2="67.1" y2="536.2" stroke="#111" stroke-width="1.1"/>
<text x="58.5" y="539.8" font-size="10.3" fill="#1a1a1a" text-anchor="end" textLength="21.3" lengthAdjust="spacingAndGlyphs">10%</text>
<line x1="63.1" y1="492.3" x2="67.1" y2="492.3" stroke="#111" stroke-width="1.1"/>
<text x="58.5" y="495.9" font-size="10.3" fill="#1a1a1a" text-anchor="end" textLength="21.3" lengthAdjust="spacingAndGlyphs">15%</text>
<rect x="75.9" y="589.9" width="24" height="34.1" fill="#2e4a7d" stroke="#203a6e" stroke-width="0.6"/>
<line x1="87.9" y1="573" x2="87.9" y2="607" stroke="#151515" stroke-width="1"/>
<line x1="86.4" y1="573" x2="89.4" y2="573" stroke="#151515" stroke-width="1"/>
<line x1="86.4" y1="607" x2="89.4" y2="607" stroke="#151515" stroke-width="1"/>
<rect x="116.9" y="615.2" width="24" height="8.8" fill="#2e4a7d" stroke="#203a6e" stroke-width="0.6"/>
<line x1="128.9" y1="600.7" x2="128.9" y2="624" stroke="#151515" stroke-width="1"/>
<line x1="127.4" y1="600.7" x2="130.4" y2="600.7" stroke="#151515" stroke-width="1"/>
<rect x="157.8" y="576.9" width="24" height="47.1" fill="#2e4a7d" stroke="#203a6e" stroke-width="0.6"/>
<line x1="169.8" y1="564.6" x2="169.8" y2="589" stroke="#151515" stroke-width="1"/>
<line x1="168.3" y1="564.6" x2="171.3" y2="564.6" stroke="#151515" stroke-width="1"/>
<line x1="168.3" y1="589" x2="171.3" y2="589" stroke="#151515" stroke-width="1"/>
<rect x="198.9" y="509" width="24" height="115" fill="#2e4a7d" stroke="#203a6e" stroke-width="0.6"/>
<line x1="210.9" y1="502.2" x2="210.9" y2="515.5" stroke="#151515" stroke-width="1"/>
<line x1="209.4" y1="502.2" x2="212.4" y2="502.2" stroke="#151515" stroke-width="1"/>
<line x1="209.4" y1="515.5" x2="212.4" y2="515.5" stroke="#151515" stroke-width="1"/>
<line x1="108.1" y1="624" x2="108.1" y2="627.6" stroke="#111" stroke-width="1.1"/>
<line x1="148.9" y1="624" x2="148.9" y2="627.6" stroke="#111" stroke-width="1.1"/>
<line x1="190.1" y1="624" x2="190.1" y2="627.6" stroke="#111" stroke-width="1.1"/>
<line x1="231.4" y1="624" x2="231.4" y2="627.6" stroke="#111" stroke-width="1.1"/>
<text x="87.8" y="642.3" font-size="10.4" fill="#111" text-anchor="middle" textLength="16.9" lengthAdjust="spacingAndGlyphs">6/6</text>
<text x="128.9" y="642.3" font-size="10.4" fill="#111" text-anchor="middle" textLength="16.9" lengthAdjust="spacingAndGlyphs">6/8</text>
<text x="169.8" y="642.3" font-size="10.4" fill="#111" text-anchor="middle" textLength="16.9" lengthAdjust="spacingAndGlyphs">8/8</text>
<text x="210.9" y="642.3" font-size="10.4" fill="#111" text-anchor="middle" textLength="16.9" lengthAdjust="spacingAndGlyphs">8/6</text>
<text transform="translate(28.2,556) rotate(-90)" x="0" y="0" font-size="12.2" fill="#111" text-anchor="middle" textLength="126.3" lengthAdjust="spacingAndGlyphs" stroke="#111" stroke-width="0.3">Change of calcein fluorescence</text>
<text x="151.4" y="659.9" font-size="11.4" fill="#111" text-anchor="middle" textLength="37.6" lengthAdjust="spacingAndGlyphs" stroke="#111" stroke-width="0.4">pH in/out</text>
<text x="137.8" y="479.6" font-size="12.6" fill="#111" textLength="14.6" lengthAdjust="spacingAndGlyphs">Fe</text>
<text x="151.5" y="476.1" font-size="10.4" fill="#111" textLength="12.6" lengthAdjust="spacingAndGlyphs">2+</text>
<line x1="326.5" y1="491" x2="326.5" y2="626" stroke="#111" stroke-width="1.3"/>
<line x1="325.9" y1="624" x2="494.8" y2="624" stroke="#111" stroke-width="1.3"/>
<line x1="322.5" y1="624" x2="326.5" y2="624" stroke="#111" stroke-width="1.1"/>
<text x="317.9" y="627.6" font-size="10.3" fill="#1a1a1a" text-anchor="end" textLength="14.6" lengthAdjust="spacingAndGlyphs">0%</text>
<line x1="322.5" y1="593.8" x2="326.5" y2="593.8" stroke="#111" stroke-width="1.1"/>
<text x="317.9" y="597.4" font-size="10.3" fill="#1a1a1a" text-anchor="end" textLength="14.6" lengthAdjust="spacingAndGlyphs">5%</text>
<line x1="322.5" y1="563.6" x2="326.5" y2="563.6" stroke="#111" stroke-width="1.1"/>
<text x="317.9" y="567.2" font-size="10.3" fill="#1a1a1a" text-anchor="end" textLength="21.3" lengthAdjust="spacingAndGlyphs">10%</text>
<line x1="322.5" y1="533.4" x2="326.5" y2="533.4" stroke="#111" stroke-width="1.1"/>
<text x="317.9" y="537" font-size="10.3" fill="#1a1a1a" text-anchor="end" textLength="21.3" lengthAdjust="spacingAndGlyphs">15%</text>
<line x1="322.5" y1="503.2" x2="326.5" y2="503.2" stroke="#111" stroke-width="1.1"/>
<text x="317.9" y="506.8" font-size="10.3" fill="#1a1a1a" text-anchor="end" textLength="21.3" lengthAdjust="spacingAndGlyphs">20%</text>
<line x1="324.3" y1="608.9" x2="326.5" y2="608.9" stroke="#111" stroke-width="1"/>
<line x1="324.3" y1="578.7" x2="326.5" y2="578.7" stroke="#111" stroke-width="1"/>
<line x1="324.3" y1="548.5" x2="326.5" y2="548.5" stroke="#111" stroke-width="1"/>
<line x1="324.3" y1="518.3" x2="326.5" y2="518.3" stroke="#111" stroke-width="1"/>
<rect x="335.2" y="580" width="23.6" height="44" fill="#2e4a7d" stroke="#203a6e" stroke-width="0.6"/>
<line x1="347" y1="576.9" x2="347" y2="582.7" stroke="#151515" stroke-width="1"/>
<line x1="345.5" y1="576.9" x2="348.5" y2="576.9" stroke="#151515" stroke-width="1"/>
<line x1="345.5" y1="582.7" x2="348.5" y2="582.7" stroke="#151515" stroke-width="1"/>
<rect x="376.3" y="542" width="24" height="82" fill="#2e4a7d" stroke="#203a6e" stroke-width="0.6"/>
<line x1="388.3" y1="536.6" x2="388.3" y2="547.1" stroke="#151515" stroke-width="1"/>
<line x1="386.8" y1="536.6" x2="389.8" y2="536.6" stroke="#151515" stroke-width="1"/>
<line x1="386.8" y1="547.1" x2="389.8" y2="547.1" stroke="#151515" stroke-width="1"/>
<rect x="417.4" y="520.2" width="24.1" height="103.8" fill="#2e4a7d" stroke="#203a6e" stroke-width="0.6"/>
<line x1="429.45" y1="502.9" x2="429.45" y2="537.1" stroke="#151515" stroke-width="1"/>
<line x1="427.95" y1="502.9" x2="430.95" y2="502.9" stroke="#151515" stroke-width="1"/>
<line x1="427.95" y1="537.1" x2="430.95" y2="537.1" stroke="#151515" stroke-width="1"/>
<rect x="458.9" y="494.8" width="24.1" height="129.2" fill="#2e4a7d" stroke="#203a6e" stroke-width="0.6"/>
<line x1="470.95" y1="491.3" x2="470.95" y2="498.1" stroke="#151515" stroke-width="1"/>
<line x1="469.45" y1="491.3" x2="472.45" y2="491.3" stroke="#151515" stroke-width="1"/>
<line x1="469.45" y1="498.1" x2="472.45" y2="498.1" stroke="#151515" stroke-width="1"/>
<line x1="346.8" y1="624" x2="346.8" y2="627.6" stroke="#111" stroke-width="1.1"/>
<line x1="388.3" y1="624" x2="388.3" y2="627.6" stroke="#111" stroke-width="1.1"/>
<line x1="429.5" y1="624" x2="429.5" y2="627.6" stroke="#111" stroke-width="1.1"/>
<line x1="470.6" y1="624" x2="470.6" y2="627.6" stroke="#111" stroke-width="1.1"/>
<line x1="367.2" y1="624" x2="367.2" y2="626" stroke="#111" stroke-width="1"/>
<line x1="408.3" y1="624" x2="408.3" y2="626" stroke="#111" stroke-width="1"/>
<line x1="449.5" y1="624" x2="449.5" y2="626" stroke="#111" stroke-width="1"/>
<line x1="490.6" y1="624" x2="490.6" y2="626" stroke="#111" stroke-width="1"/>
<text x="347.3" y="642.8" font-size="10.4" fill="#111" text-anchor="middle" textLength="16.9" lengthAdjust="spacingAndGlyphs">6/6</text>
<text x="388.5" y="642.8" font-size="10.4" fill="#111" text-anchor="middle" textLength="16.9" lengthAdjust="spacingAndGlyphs">6/8</text>
<text x="429.6" y="642.8" font-size="10.4" fill="#111" text-anchor="middle" textLength="16.9" lengthAdjust="spacingAndGlyphs">8/8</text>
<text x="470.5" y="642.8" font-size="10.4" fill="#111" text-anchor="middle" textLength="16.9" lengthAdjust="spacingAndGlyphs">8/6</text>
<text transform="translate(287.6,558) rotate(-90)" x="0" y="0" font-size="12.2" fill="#111" text-anchor="middle" textLength="126.3" lengthAdjust="spacingAndGlyphs" stroke="#111" stroke-width="0.3">Change of calcein fluorescence</text>
<text x="410.8" y="659.9" font-size="11.4" fill="#111" text-anchor="middle" textLength="37.6" lengthAdjust="spacingAndGlyphs" stroke="#111" stroke-width="0.4">pH in/out</text>
<text x="395.1" y="479.8" font-size="12.6" fill="#111" textLength="18" lengthAdjust="spacingAndGlyphs">Co</text>
<text x="412.6" y="476.1" font-size="10.4" fill="#111" textLength="12.6" lengthAdjust="spacingAndGlyphs">2+</text>
<line x1="67.4" y1="717.7" x2="67.4" y2="861.6" stroke="#111" stroke-width="1.3"/>
<line x1="66.8" y1="858.4" x2="241.3" y2="858.4" stroke="#111" stroke-width="1.3"/>
<line x1="63.2" y1="858.4" x2="67.4" y2="858.4" stroke="#111" stroke-width="1.1"/>
<text x="58.7" y="862.7" font-size="10.3" fill="#1a1a1a" text-anchor="end" textLength="14.6" lengthAdjust="spacingAndGlyphs">0%</text>
<line x1="65.2" y1="845.03" x2="67.4" y2="845.03" stroke="#111" stroke-width="1"/>
<line x1="63.2" y1="831.67" x2="67.4" y2="831.67" stroke="#111" stroke-width="1.1"/>
<text x="58.7" y="835.97" font-size="10.3" fill="#1a1a1a" text-anchor="end" textLength="21.6" lengthAdjust="spacingAndGlyphs">20%</text>
<line x1="65.2" y1="818.3" x2="67.4" y2="818.3" stroke="#111" stroke-width="1"/>
<line x1="63.2" y1="804.94" x2="67.4" y2="804.94" stroke="#111" stroke-width="1.1"/>
<text x="58.7" y="809.24" font-size="10.3" fill="#1a1a1a" text-anchor="end" textLength="21.6" lengthAdjust="spacingAndGlyphs">40%</text>
<line x1="65.2" y1="791.57" x2="67.4" y2="791.57" stroke="#111" stroke-width="1"/>
<line x1="63.2" y1="778.21" x2="67.4" y2="778.21" stroke="#111" stroke-width="1.1"/>
<text x="58.7" y="782.51" font-size="10.3" fill="#1a1a1a" text-anchor="end" textLength="21.6" lengthAdjust="spacingAndGlyphs">60%</text>
<line x1="65.2" y1="764.85" x2="67.4" y2="764.85" stroke="#111" stroke-width="1"/>
<line x1="63.2" y1="751.48" x2="67.4" y2="751.48" stroke="#111" stroke-width="1.1"/>
<text x="58.7" y="755.78" font-size="10.3" fill="#1a1a1a" text-anchor="end" textLength="21.6" lengthAdjust="spacingAndGlyphs">80%</text>
<line x1="65.2" y1="738.12" x2="67.4" y2="738.12" stroke="#111" stroke-width="1"/>
<line x1="63.2" y1="724.75" x2="67.4" y2="724.75" stroke="#111" stroke-width="1.1"/>
<text x="58.7" y="729.05" font-size="10.3" fill="#1a1a1a" text-anchor="end" textLength="28.6" lengthAdjust="spacingAndGlyphs">100%</text>
<line x1="67.4" y1="858.4" x2="67.4" y2="861.6" stroke="#111" stroke-width="1.1"/>
<text x="67.4" y="876.3" font-size="10.4" fill="#111" text-anchor="middle" textLength="6.5" lengthAdjust="spacingAndGlyphs">0</text>
<line x1="84.1" y1="858.4" x2="84.1" y2="860.2" stroke="#111" stroke-width="1"/>
<line x1="100.8" y1="858.4" x2="100.8" y2="861.6" stroke="#111" stroke-width="1.1"/>
<text x="100.8" y="876.3" font-size="10.4" fill="#111" text-anchor="middle" textLength="6.5" lengthAdjust="spacingAndGlyphs">5</text>
<line x1="117.5" y1="858.4" x2="117.5" y2="860.2" stroke="#111" stroke-width="1"/>
<line x1="134.2" y1="858.4" x2="134.2" y2="861.6" stroke="#111" stroke-width="1.1"/>
<text x="134.2" y="876.3" font-size="10.4" fill="#111" text-anchor="middle" textLength="12.4" lengthAdjust="spacingAndGlyphs">10</text>
<line x1="150.9" y1="858.4" x2="150.9" y2="860.2" stroke="#111" stroke-width="1"/>
<line x1="167.6" y1="858.4" x2="167.6" y2="861.6" stroke="#111" stroke-width="1.1"/>
<text x="167.6" y="876.3" font-size="10.4" fill="#111" text-anchor="middle" textLength="12.4" lengthAdjust="spacingAndGlyphs">15</text>
<line x1="184.3" y1="858.4" x2="184.3" y2="860.2" stroke="#111" stroke-width="1"/>
<line x1="201" y1="858.4" x2="201" y2="861.6" stroke="#111" stroke-width="1.1"/>
<text x="201" y="876.3" font-size="10.4" fill="#111" text-anchor="middle" textLength="12.4" lengthAdjust="spacingAndGlyphs">20</text>
<line x1="217.7" y1="858.4" x2="217.7" y2="860.2" stroke="#111" stroke-width="1"/>
<line x1="234.4" y1="858.4" x2="234.4" y2="861.6" stroke="#111" stroke-width="1.1"/>
<text x="234.4" y="876.3" font-size="10.4" fill="#111" text-anchor="middle" textLength="12.4" lengthAdjust="spacingAndGlyphs">25</text>
<text transform="translate(22.6,788) rotate(-90)" x="0" y="0" font-size="12.2" fill="#111" text-anchor="middle" textLength="83" lengthAdjust="spacingAndGlyphs" stroke="#111" stroke-width="0.3">Calcein fluorescence</text>
<text x="154.4" y="894.2" font-size="12" fill="#111" text-anchor="middle" textLength="44.6" lengthAdjust="spacingAndGlyphs" stroke="#111" stroke-width="0.4">Time (min)</text>
<line x1="100.9" y1="705.6" x2="100.9" y2="714.2" stroke="#333" stroke-width="1.4"/>
<path d="M98.7 712.9L103.1 712.9L100.9 717.7Z" fill="#111"/>
<text x="96.1" y="701.5" font-size="10.2" fill="#de8624" textLength="11.2" lengthAdjust="spacingAndGlyphs">Fe</text>
<text x="106.9" y="697.3" font-size="7.2" fill="#de8624" textLength="9.3" lengthAdjust="spacingAndGlyphs">2+</text>
<polyline points="67.4,724.43 70.74,724.82 74.08,726.13 77.42,724.48 80.76,724.63 84.1,724.91 87.44,723.46 90.78,724.64 94.12,725.07 97.46,725.65 100.8,723.44 104.14,725.07 107.48,725.6 110.82,728.56 114.16,729.34 117.5,728.73 120.84,732.25 124.18,732.46 127.52,731.9 130.86,732.05 134.2,731.11 137.54,730.99 140.88,732.57 144.22,731.6 147.56,732.19 150.9,732.58 154.24,732.28 157.58,733.66 160.92,733.85 164.26,735.14 167.6,734.55 170.94,735.03 174.28,734.83 177.62,735.42 180.96,735.06 184.3,734.76 187.64,736.79 190.98,736.96 194.32,736.72 197.66,736.54 201,735.69 204.34,735.63 207.68,735.95 211.02,735.55 214.36,737.53 217.7,736.74 221.04,738.07 224.38,737.04 227.72,738.69 231.06,738.57 234.4,736.53 237.74,737.25" fill="none" stroke="#a5bd78" stroke-width="0.8" stroke-linejoin="round"/>
<rect x="66.3" y="723.32" width="2.21" height="2.21" fill="#a5bd78"/><rect x="69.64" y="723.71" width="2.21" height="2.21" fill="#a5bd78"/><rect x="72.98" y="725.02" width="2.21" height="2.21" fill="#a5bd78"/><rect x="76.31" y="723.37" width="2.21" height="2.21" fill="#a5bd78"/><rect x="79.66" y="723.52" width="2.21" height="2.21" fill="#a5bd78"/><rect x="83" y="723.81" width="2.21" height="2.21" fill="#a5bd78"/><rect x="86.33" y="722.36" width="2.21" height="2.21" fill="#a5bd78"/><rect x="89.67" y="723.54" width="2.21" height="2.21" fill="#a5bd78"/><rect x="93.02" y="723.96" width="2.21" height="2.21" fill="#a5bd78"/><rect x="96.36" y="724.55" width="2.21" height="2.21" fill="#a5bd78"/><rect x="99.7" y="722.34" width="2.21" height="2.21" fill="#a5bd78"/><rect x="103.03" y="723.97" width="2.21" height="2.21" fill="#a5bd78"/><rect x="106.38" y="724.5" width="2.21" height="2.21" fill="#a5bd78"/><rect x="109.72" y="727.45" width="2.21" height="2.21" fill="#a5bd78"/><rect x="113.05" y="728.23" width="2.21" height="2.21" fill="#a5bd78"/><rect x="116.39" y="727.62" width="2.21" height="2.21" fill="#a5bd78"/><rect x="119.73" y="731.15" width="2.21" height="2.21" fill="#a5bd78"/><rect x="123.08" y="731.35" width="2.21" height="2.21" fill="#a5bd78"/><rect x="126.42" y="730.8" width="2.21" height="2.21" fill="#a5bd78"/><rect x="129.76" y="730.95" width="2.21" height="2.21" fill="#a5bd78"/><rect x="133.09" y="730" width="2.21" height="2.21" fill="#a5bd78"/><rect x="136.44" y="729.88" width="2.21" height="2.21" fill="#a5bd78"/><rect x="139.78" y="731.47" width="2.21" height="2.21" fill="#a5bd78"/><rect x="143.12" y="730.5" width="2.21" height="2.21" fill="#a5bd78"/><rect x="146.46" y="731.09" width="2.21" height="2.21" fill="#a5bd78"/><rect x="149.8" y="731.47" width="2.21" height="2.21" fill="#a5bd78"/><rect x="153.14" y="731.17" width="2.21" height="2.21" fill="#a5bd78"/><rect x="156.47" y="732.55" width="2.21" height="2.21" fill="#a5bd78"/><rect x="159.82" y="732.74" width="2.21" height="2.21" fill="#a5bd78"/><rect x="163.16" y="734.04" width="2.21" height="2.21" fill="#a5bd78"/><rect x="166.5" y="733.44" width="2.21" height="2.21" fill="#a5bd78"/><rect x="169.84" y="733.93" width="2.21" height="2.21" fill="#a5bd78"/><rect x="173.18" y="733.73" width="2.21" height="2.21" fill="#a5bd78"/><rect x="176.52" y="734.32" width="2.21" height="2.21" fill="#a5bd78"/><rect x="179.86" y="733.95" width="2.21" height="2.21" fill="#a5bd78"/><rect x="183.2" y="733.65" width="2.21" height="2.21" fill="#a5bd78"/><rect x="186.53" y="735.69" width="2.21" height="2.21" fill="#a5bd78"/><rect x="189.88" y="735.85" width="2.21" height="2.21" fill="#a5bd78"/><rect x="193.22" y="735.61" width="2.21" height="2.21" fill="#a5bd78"/><rect x="196.56" y="735.44" width="2.21" height="2.21" fill="#a5bd78"/><rect x="199.9" y="734.58" width="2.21" height="2.21" fill="#a5bd78"/><rect x="203.24" y="734.53" width="2.21" height="2.21" fill="#a5bd78"/><rect x="206.58" y="734.85" width="2.21" height="2.21" fill="#a5bd78"/><rect x="209.92" y="734.44" width="2.21" height="2.21" fill="#a5bd78"/><rect x="213.25" y="736.42" width="2.21" height="2.21" fill="#a5bd78"/><rect x="216.59" y="735.64" width="2.21" height="2.21" fill="#a5bd78"/><rect x="219.94" y="736.96" width="2.21" height="2.21" fill="#a5bd78"/><rect x="223.28" y="735.93" width="2.21" height="2.21" fill="#a5bd78"/><rect x="226.62" y="737.59" width="2.21" height="2.21" fill="#a5bd78"/><rect x="229.96" y="737.46" width="2.21" height="2.21" fill="#a5bd78"/><rect x="233.3" y="735.43" width="2.21" height="2.21" fill="#a5bd78"/><rect x="236.64" y="736.14" width="2.21" height="2.21" fill="#a5bd78"/>
<polyline points="67.4,723 70.74,725 74.08,727.7 77.42,724 80.76,723 84.1,725 87.44,724 90.78,726 94.12,725 97.46,724 100.8,724.43 104.14,726.16 107.48,727.43 110.82,727.32 114.16,728.23 117.5,730.42 120.84,731.41 124.18,733.18 127.52,733.25 130.86,733.39 134.2,733.65 137.54,733.97 140.88,732.68 144.22,733.49 147.56,732.82 150.9,734.81 154.24,732.65 157.58,734.68 160.92,732.79 164.26,734.44 167.6,733.58 170.94,733.86 174.28,735.1 177.62,733.06 180.96,733.28 184.3,735.6 187.64,734.65 190.98,733.67 194.32,736.1 197.66,736.1 201,734.04 204.34,734.95 207.68,734.31 211.02,734.87 214.36,735.78 217.7,734.7 221.04,736.19 224.38,734.61 227.72,735.03 231.06,736.81 234.4,735.84 237.74,735.99" fill="none" stroke="#2f3b5a" stroke-width="0.8" stroke-linejoin="round"/>
<path d="M68.84 723L66.38 724.36L66.38 721.64Z" fill="#2f3b5a"/><path d="M72.19 725L69.72 726.36L69.72 723.64Z" fill="#2f3b5a"/><path d="M75.53 727.7L73.06 729.06L73.06 726.34Z" fill="#2f3b5a"/><path d="M78.86 724L76.4 725.36L76.4 722.64Z" fill="#2f3b5a"/><path d="M82.2 723L79.74 724.36L79.74 721.64Z" fill="#2f3b5a"/><path d="M85.55 725L83.08 726.36L83.08 723.64Z" fill="#2f3b5a"/><path d="M88.88 724L86.42 725.36L86.42 722.64Z" fill="#2f3b5a"/><path d="M92.22 726L89.76 727.36L89.76 724.64Z" fill="#2f3b5a"/><path d="M95.56 725L93.1 726.36L93.1 723.64Z" fill="#2f3b5a"/><path d="M98.91 724L96.44 725.36L96.44 722.64Z" fill="#2f3b5a"/><path d="M102.25 724.43L99.78 725.79L99.78 723.07Z" fill="#2f3b5a"/><path d="M105.58 726.16L103.12 727.52L103.12 724.8Z" fill="#2f3b5a"/><path d="M108.92 727.43L106.46 728.79L106.46 726.07Z" fill="#2f3b5a"/><path d="M112.27 727.32L109.8 728.68L109.8 725.96Z" fill="#2f3b5a"/><path d="M115.6 728.23L113.14 729.59L113.14 726.87Z" fill="#2f3b5a"/><path d="M118.94 730.42L116.48 731.78L116.48 729.06Z" fill="#2f3b5a"/><path d="M122.28 731.41L119.82 732.77L119.82 730.05Z" fill="#2f3b5a"/><path d="M125.62 733.18L123.16 734.54L123.16 731.82Z" fill="#2f3b5a"/><path d="M128.97 733.25L126.5 734.61L126.5 731.89Z" fill="#2f3b5a"/><path d="M132.31 733.39L129.84 734.75L129.84 732.03Z" fill="#2f3b5a"/><path d="M135.64 733.65L133.18 735.01L133.18 732.29Z" fill="#2f3b5a"/><path d="M138.99 733.97L136.52 735.33L136.52 732.61Z" fill="#2f3b5a"/><path d="M142.32 732.68L139.86 734.04L139.86 731.32Z" fill="#2f3b5a"/><path d="M145.66 733.49L143.2 734.85L143.2 732.13Z" fill="#2f3b5a"/><path d="M149 732.82L146.54 734.18L146.54 731.46Z" fill="#2f3b5a"/><path d="M152.34 734.81L149.88 736.17L149.88 733.45Z" fill="#2f3b5a"/><path d="M155.69 732.65L153.22 734.01L153.22 731.29Z" fill="#2f3b5a"/><path d="M159.02 734.68L156.56 736.04L156.56 733.32Z" fill="#2f3b5a"/><path d="M162.37 732.79L159.9 734.15L159.9 731.43Z" fill="#2f3b5a"/><path d="M165.7 734.44L163.24 735.8L163.24 733.08Z" fill="#2f3b5a"/><path d="M169.04 733.58L166.58 734.94L166.58 732.22Z" fill="#2f3b5a"/><path d="M172.38 733.86L169.92 735.22L169.92 732.5Z" fill="#2f3b5a"/><path d="M175.72 735.1L173.26 736.46L173.26 733.74Z" fill="#2f3b5a"/><path d="M179.06 733.06L176.6 734.42L176.6 731.7Z" fill="#2f3b5a"/><path d="M182.41 733.28L179.94 734.64L179.94 731.92Z" fill="#2f3b5a"/><path d="M185.75 735.6L183.28 736.96L183.28 734.24Z" fill="#2f3b5a"/><path d="M189.08 734.65L186.62 736.01L186.62 733.29Z" fill="#2f3b5a"/><path d="M192.43 733.67L189.96 735.03L189.96 732.31Z" fill="#2f3b5a"/><path d="M195.76 736.1L193.3 737.46L193.3 734.74Z" fill="#2f3b5a"/><path d="M199.1 736.1L196.64 737.46L196.64 734.74Z" fill="#2f3b5a"/><path d="M202.44 734.04L199.98 735.4L199.98 732.68Z" fill="#2f3b5a"/><path d="M205.78 734.95L203.32 736.31L203.32 733.59Z" fill="#2f3b5a"/><path d="M209.12 734.31L206.66 735.67L206.66 732.95Z" fill="#2f3b5a"/><path d="M212.47 734.87L210 736.23L210 733.51Z" fill="#2f3b5a"/><path d="M215.8 735.78L213.34 737.14L213.34 734.42Z" fill="#2f3b5a"/><path d="M219.14 734.7L216.68 736.06L216.68 733.34Z" fill="#2f3b5a"/><path d="M222.48 736.19L220.02 737.55L220.02 734.83Z" fill="#2f3b5a"/><path d="M225.82 734.61L223.36 735.97L223.36 733.25Z" fill="#2f3b5a"/><path d="M229.16 735.03L226.7 736.39L226.7 733.67Z" fill="#2f3b5a"/><path d="M232.5 736.81L230.04 738.17L230.04 735.45Z" fill="#2f3b5a"/><path d="M235.84 735.84L233.38 737.2L233.38 734.48Z" fill="#2f3b5a"/><path d="M239.19 735.99L236.72 737.35L236.72 734.63Z" fill="#2f3b5a"/>
<polyline points="67.4,723.73 70.74,725.27 74.08,725.26 77.42,725.86 80.76,723.47 84.1,723.63 87.44,723.33 90.78,723.61 94.12,725.44 97.46,723.27 100.8,724.58 104.14,724.26 107.48,724.97 110.82,725.82 114.16,727.38 117.5,727.28 120.84,726.24 124.18,727.12 127.52,726.98 130.86,729.07 134.2,729.11 137.54,729.3 140.88,729.55 144.22,729.54 147.56,730.27 150.9,730.06 154.24,728.87 157.58,730.52 160.92,729.68 164.26,730.48 167.6,730.1 170.94,729.85 174.28,729.79 177.62,730.07 180.96,729.87 184.3,729.47 187.64,731.4 190.98,731.45 194.32,732.05 197.66,731.39 201,731.14 204.34,731.74 207.68,730.23 211.02,731.73 214.36,731.22 217.7,730.61 221.04,730.77 224.38,731.7 227.72,731.09 231.06,731.71 234.4,732.18 237.74,731.73" fill="none" stroke="#9b8ccc" stroke-width="0.8" stroke-linejoin="round"/>
<path d="M67.4 722.29L68.76 724.75L66.04 724.75Z" fill="#9b8ccc"/><path d="M70.74 723.82L72.1 726.29L69.38 726.29Z" fill="#9b8ccc"/><path d="M74.08 723.82L75.44 726.28L72.72 726.28Z" fill="#9b8ccc"/><path d="M77.42 724.41L78.78 726.88L76.06 726.88Z" fill="#9b8ccc"/><path d="M80.76 722.02L82.12 724.49L79.4 724.49Z" fill="#9b8ccc"/><path d="M84.1 722.19L85.46 724.65L82.74 724.65Z" fill="#9b8ccc"/><path d="M87.44 721.88L88.8 724.35L86.08 724.35Z" fill="#9b8ccc"/><path d="M90.78 722.17L92.14 724.63L89.42 724.63Z" fill="#9b8ccc"/><path d="M94.12 724L95.48 726.46L92.76 726.46Z" fill="#9b8ccc"/><path d="M97.46 721.82L98.82 724.29L96.1 724.29Z" fill="#9b8ccc"/><path d="M100.8 723.14L102.16 725.6L99.44 725.6Z" fill="#9b8ccc"/><path d="M104.14 722.81L105.5 725.28L102.78 725.28Z" fill="#9b8ccc"/><path d="M107.48 723.52L108.84 725.99L106.12 725.99Z" fill="#9b8ccc"/><path d="M110.82 724.38L112.18 726.84L109.46 726.84Z" fill="#9b8ccc"/><path d="M114.16 725.93L115.52 728.4L112.8 728.4Z" fill="#9b8ccc"/><path d="M117.5 725.84L118.86 728.3L116.14 728.3Z" fill="#9b8ccc"/><path d="M120.84 724.79L122.2 727.26L119.48 727.26Z" fill="#9b8ccc"/><path d="M124.18 725.67L125.54 728.14L122.82 728.14Z" fill="#9b8ccc"/><path d="M127.52 725.54L128.88 728L126.16 728Z" fill="#9b8ccc"/><path d="M130.86 727.62L132.22 730.09L129.5 730.09Z" fill="#9b8ccc"/><path d="M134.2 727.66L135.56 730.13L132.84 730.13Z" fill="#9b8ccc"/><path d="M137.54 727.85L138.9 730.32L136.18 730.32Z" fill="#9b8ccc"/><path d="M140.88 728.1L142.24 730.57L139.52 730.57Z" fill="#9b8ccc"/><path d="M144.22 728.09L145.58 730.56L142.86 730.56Z" fill="#9b8ccc"/><path d="M147.56 728.82L148.92 731.29L146.2 731.29Z" fill="#9b8ccc"/><path d="M150.9 728.62L152.26 731.08L149.54 731.08Z" fill="#9b8ccc"/><path d="M154.24 727.42L155.6 729.89L152.88 729.89Z" fill="#9b8ccc"/><path d="M157.58 729.07L158.94 731.54L156.22 731.54Z" fill="#9b8ccc"/><path d="M160.92 728.23L162.28 730.7L159.56 730.7Z" fill="#9b8ccc"/><path d="M164.26 729.04L165.62 731.5L162.9 731.5Z" fill="#9b8ccc"/><path d="M167.6 728.65L168.96 731.12L166.24 731.12Z" fill="#9b8ccc"/><path d="M170.94 728.41L172.3 730.87L169.58 730.87Z" fill="#9b8ccc"/><path d="M174.28 728.34L175.64 730.81L172.92 730.81Z" fill="#9b8ccc"/><path d="M177.62 728.62L178.98 731.09L176.26 731.09Z" fill="#9b8ccc"/><path d="M180.96 728.43L182.32 730.89L179.6 730.89Z" fill="#9b8ccc"/><path d="M184.3 728.02L185.66 730.49L182.94 730.49Z" fill="#9b8ccc"/><path d="M187.64 729.96L189 732.42L186.28 732.42Z" fill="#9b8ccc"/><path d="M190.98 730.01L192.34 732.47L189.62 732.47Z" fill="#9b8ccc"/><path d="M194.32 730.6L195.68 733.07L192.96 733.07Z" fill="#9b8ccc"/><path d="M197.66 729.94L199.02 732.41L196.3 732.41Z" fill="#9b8ccc"/><path d="M201 729.7L202.36 732.16L199.64 732.16Z" fill="#9b8ccc"/><path d="M204.34 730.29L205.7 732.76L202.98 732.76Z" fill="#9b8ccc"/><path d="M207.68 728.79L209.04 731.25L206.32 731.25Z" fill="#9b8ccc"/><path d="M211.02 730.29L212.38 732.75L209.66 732.75Z" fill="#9b8ccc"/><path d="M214.36 729.77L215.72 732.24L213 732.24Z" fill="#9b8ccc"/><path d="M217.7 729.17L219.06 731.63L216.34 731.63Z" fill="#9b8ccc"/><path d="M221.04 729.33L222.4 731.79L219.68 731.79Z" fill="#9b8ccc"/><path d="M224.38 730.25L225.74 732.72L223.02 732.72Z" fill="#9b8ccc"/><path d="M227.72 729.64L229.08 732.11L226.36 732.11Z" fill="#9b8ccc"/><path d="M231.06 730.27L232.42 732.73L229.7 732.73Z" fill="#9b8ccc"/><path d="M234.4 730.74L235.76 733.2L233.04 733.2Z" fill="#9b8ccc"/><path d="M237.74 730.28L239.1 732.75L236.38 732.75Z" fill="#9b8ccc"/>
<polyline points="67.4,725 70.74,728 74.08,724 77.42,723 80.76,722 84.1,721.7 87.44,723 90.78,726 94.12,725 97.46,724 100.8,723.48 104.14,727.4 107.48,729.65 110.82,732.77 114.16,733.4 117.5,734.35 120.84,736.57 124.18,737.36 127.52,737.42 130.86,739.39 134.2,739.75 137.54,742.32 140.88,742.18 144.22,744.04 147.56,747.38 150.9,747.38 154.24,747.9 157.58,750.09 160.92,750.41 164.26,749.92 167.6,751.74 170.94,752.8 174.28,752.27 177.62,753.96 180.96,752.91 184.3,753.8 187.64,753.47 190.98,754.11 194.32,756.45 197.66,755.29 201,757.1 204.34,755.79 207.68,756.35 211.02,757.16 214.36,756.8 217.7,755.43 221.04,756.79 224.38,757.03 227.72,755.98 231.06,755.88 234.4,758.03 237.74,757.21" fill="none" stroke="#e48f1e" stroke-width="0.8" stroke-linejoin="round"/>
<circle cx="67.4" cy="725" r="1.15" fill="#e48f1e"/><circle cx="70.74" cy="728" r="1.15" fill="#e48f1e"/><circle cx="74.08" cy="724" r="1.15" fill="#e48f1e"/><circle cx="77.42" cy="723" r="1.15" fill="#e48f1e"/><circle cx="80.76" cy="722" r="1.15" fill="#e48f1e"/><circle cx="84.1" cy="721.7" r="1.15" fill="#e48f1e"/><circle cx="87.44" cy="723" r="1.15" fill="#e48f1e"/><circle cx="90.78" cy="726" r="1.15" fill="#e48f1e"/><circle cx="94.12" cy="725" r="1.15" fill="#e48f1e"/><circle cx="97.46" cy="724" r="1.15" fill="#e48f1e"/><circle cx="100.8" cy="723.48" r="1.15" fill="#e48f1e"/><circle cx="104.14" cy="727.4" r="1.15" fill="#e48f1e"/><circle cx="107.48" cy="729.65" r="1.15" fill="#e48f1e"/><circle cx="110.82" cy="732.77" r="1.15" fill="#e48f1e"/><circle cx="114.16" cy="733.4" r="1.15" fill="#e48f1e"/><circle cx="117.5" cy="734.35" r="1.15" fill="#e48f1e"/><circle cx="120.84" cy="736.57" r="1.15" fill="#e48f1e"/><circle cx="124.18" cy="737.36" r="1.15" fill="#e48f1e"/><circle cx="127.52" cy="737.42" r="1.15" fill="#e48f1e"/><circle cx="130.86" cy="739.39" r="1.15" fill="#e48f1e"/><circle cx="134.2" cy="739.75" r="1.15" fill="#e48f1e"/><circle cx="137.54" cy="742.32" r="1.15" fill="#e48f1e"/><circle cx="140.88" cy="742.18" r="1.15" fill="#e48f1e"/><circle cx="144.22" cy="744.04" r="1.15" fill="#e48f1e"/><circle cx="147.56" cy="747.38" r="1.15" fill="#e48f1e"/><circle cx="150.9" cy="747.38" r="1.15" fill="#e48f1e"/><circle cx="154.24" cy="747.9" r="1.15" fill="#e48f1e"/><circle cx="157.58" cy="750.09" r="1.15" fill="#e48f1e"/><circle cx="160.92" cy="750.41" r="1.15" fill="#e48f1e"/><circle cx="164.26" cy="749.92" r="1.15" fill="#e48f1e"/><circle cx="167.6" cy="751.74" r="1.15" fill="#e48f1e"/><circle cx="170.94" cy="752.8" r="1.15" fill="#e48f1e"/><circle cx="174.28" cy="752.27" r="1.15" fill="#e48f1e"/><circle cx="177.62" cy="753.96" r="1.15" fill="#e48f1e"/><circle cx="180.96" cy="752.91" r="1.15" fill="#e48f1e"/><circle cx="184.3" cy="753.8" r="1.15" fill="#e48f1e"/><circle cx="187.64" cy="753.47" r="1.15" fill="#e48f1e"/><circle cx="190.98" cy="754.11" r="1.15" fill="#e48f1e"/><circle cx="194.32" cy="756.45" r="1.15" fill="#e48f1e"/><circle cx="197.66" cy="755.29" r="1.15" fill="#e48f1e"/><circle cx="201" cy="757.1" r="1.15" fill="#e48f1e"/><circle cx="204.34" cy="755.79" r="1.15" fill="#e48f1e"/><circle cx="207.68" cy="756.35" r="1.15" fill="#e48f1e"/><circle cx="211.02" cy="757.16" r="1.15" fill="#e48f1e"/><circle cx="214.36" cy="756.8" r="1.15" fill="#e48f1e"/><circle cx="217.7" cy="755.43" r="1.15" fill="#e48f1e"/><circle cx="221.04" cy="756.79" r="1.15" fill="#e48f1e"/><circle cx="224.38" cy="757.03" r="1.15" fill="#e48f1e"/><circle cx="227.72" cy="755.98" r="1.15" fill="#e48f1e"/><circle cx="231.06" cy="755.88" r="1.15" fill="#e48f1e"/><circle cx="234.4" cy="758.03" r="1.15" fill="#e48f1e"/><circle cx="237.74" cy="757.21" r="1.15" fill="#e48f1e"/>
<polyline points="67.4,726.27 70.74,722.84 74.08,725.45 77.42,723.37 80.76,726.35 84.1,722.86 87.44,725.97 90.78,725.25 94.12,725.89 97.46,726.4 100.8,723.82 104.14,726.2 107.48,729.29 110.82,730.3 114.16,732.38 117.5,733.33 120.84,736 124.18,737.08 127.52,737.91 130.86,737.45 134.2,740.48 137.54,741.31 140.88,742.48 144.22,744.96 147.56,746.77 150.9,747.64 154.24,750.08 157.58,750.72 160.92,752.44 164.26,754.56 167.6,754.99 170.94,755.54 174.28,757.91 177.62,758.78 180.96,757.84 184.3,759.39 187.64,757.35 190.98,758.03 194.32,758.48 197.66,760.84 201,760.54 204.34,760.82 207.68,759.91 211.02,760.66 214.36,761.89 217.7,760.05 221.04,760.31 224.38,760.34 227.72,761.64 231.06,762.82 234.4,762.29 237.74,762.1" fill="none" stroke="#5ea83c" stroke-width="0.8" stroke-linejoin="round"/>
<path d="M65.96 726.27L68.42 727.63L68.42 724.91Z" fill="#5ea83c"/><path d="M69.3 722.84L71.76 724.2L71.76 721.48Z" fill="#5ea83c"/><path d="M72.64 725.45L75.1 726.81L75.1 724.09Z" fill="#5ea83c"/><path d="M75.98 723.37L78.44 724.73L78.44 722.01Z" fill="#5ea83c"/><path d="M79.32 726.35L81.78 727.71L81.78 724.99Z" fill="#5ea83c"/><path d="M82.66 722.86L85.12 724.22L85.12 721.5Z" fill="#5ea83c"/><path d="M86 725.97L88.46 727.33L88.46 724.61Z" fill="#5ea83c"/><path d="M89.34 725.25L91.8 726.61L91.8 723.89Z" fill="#5ea83c"/><path d="M92.68 725.89L95.14 727.25L95.14 724.53Z" fill="#5ea83c"/><path d="M96.02 726.4L98.48 727.76L98.48 725.04Z" fill="#5ea83c"/><path d="M99.36 723.82L101.82 725.18L101.82 722.46Z" fill="#5ea83c"/><path d="M102.7 726.2L105.16 727.56L105.16 724.84Z" fill="#5ea83c"/><path d="M106.04 729.29L108.5 730.65L108.5 727.93Z" fill="#5ea83c"/><path d="M109.38 730.3L111.84 731.66L111.84 728.94Z" fill="#5ea83c"/><path d="M112.72 732.38L115.18 733.74L115.18 731.02Z" fill="#5ea83c"/><path d="M116.06 733.33L118.52 734.69L118.52 731.97Z" fill="#5ea83c"/><path d="M119.4 736L121.86 737.36L121.86 734.64Z" fill="#5ea83c"/><path d="M122.74 737.08L125.2 738.44L125.2 735.72Z" fill="#5ea83c"/><path d="M126.08 737.91L128.54 739.27L128.54 736.55Z" fill="#5ea83c"/><path d="M129.42 737.45L131.88 738.81L131.88 736.09Z" fill="#5ea83c"/><path d="M132.75 740.48L135.22 741.84L135.22 739.12Z" fill="#5ea83c"/><path d="M136.1 741.31L138.56 742.67L138.56 739.95Z" fill="#5ea83c"/><path d="M139.44 742.48L141.9 743.84L141.9 741.12Z" fill="#5ea83c"/><path d="M142.78 744.96L145.24 746.32L145.24 743.6Z" fill="#5ea83c"/><path d="M146.12 746.77L148.58 748.13L148.58 745.41Z" fill="#5ea83c"/><path d="M149.46 747.64L151.92 749L151.92 746.28Z" fill="#5ea83c"/><path d="M152.8 750.08L155.26 751.44L155.26 748.72Z" fill="#5ea83c"/><path d="M156.13 750.72L158.6 752.08L158.6 749.36Z" fill="#5ea83c"/><path d="M159.48 752.44L161.94 753.8L161.94 751.08Z" fill="#5ea83c"/><path d="M162.81 754.56L165.28 755.92L165.28 753.2Z" fill="#5ea83c"/><path d="M166.16 754.99L168.62 756.35L168.62 753.63Z" fill="#5ea83c"/><path d="M169.5 755.54L171.96 756.9L171.96 754.18Z" fill="#5ea83c"/><path d="M172.84 757.91L175.3 759.27L175.3 756.55Z" fill="#5ea83c"/><path d="M176.18 758.78L178.64 760.14L178.64 757.42Z" fill="#5ea83c"/><path d="M179.52 757.84L181.98 759.2L181.98 756.48Z" fill="#5ea83c"/><path d="M182.86 759.39L185.32 760.75L185.32 758.03Z" fill="#5ea83c"/><path d="M186.19 757.35L188.66 758.71L188.66 755.99Z" fill="#5ea83c"/><path d="M189.54 758.03L192 759.39L192 756.67Z" fill="#5ea83c"/><path d="M192.88 758.48L195.34 759.84L195.34 757.12Z" fill="#5ea83c"/><path d="M196.22 760.84L198.68 762.2L198.68 759.48Z" fill="#5ea83c"/><path d="M199.56 760.54L202.02 761.9L202.02 759.18Z" fill="#5ea83c"/><path d="M202.9 760.82L205.36 762.18L205.36 759.46Z" fill="#5ea83c"/><path d="M206.24 759.91L208.7 761.27L208.7 758.55Z" fill="#5ea83c"/><path d="M209.58 760.66L212.04 762.02L212.04 759.3Z" fill="#5ea83c"/><path d="M212.91 761.89L215.38 763.25L215.38 760.53Z" fill="#5ea83c"/><path d="M216.25 760.05L218.72 761.41L218.72 758.69Z" fill="#5ea83c"/><path d="M219.59 760.31L222.06 761.67L222.06 758.95Z" fill="#5ea83c"/><path d="M222.94 760.34L225.4 761.7L225.4 758.98Z" fill="#5ea83c"/><path d="M226.28 761.64L228.74 763L228.74 760.28Z" fill="#5ea83c"/><path d="M229.62 762.82L232.08 764.18L232.08 761.46Z" fill="#5ea83c"/><path d="M232.96 762.29L235.42 763.65L235.42 760.93Z" fill="#5ea83c"/><path d="M236.3 762.1L238.76 763.46L238.76 760.74Z" fill="#5ea83c"/>
<polyline points="67.4,724 70.74,722 74.08,720 77.42,723 80.76,725 84.1,724 87.44,727 90.78,729 94.12,724 97.46,722 100.8,722.14 104.14,731.02 107.48,736.48 110.82,740.21 114.16,743.76 117.5,747.05 120.84,748.66 124.18,752.18 127.52,752.69 130.86,755.58 134.2,757.63 137.54,758.44 140.88,761.31 144.22,761.01 147.56,762.75 150.9,763.76 154.24,762.78 157.58,765.3 160.92,765.92 164.26,766.41 167.6,765.6 170.94,767.57 174.28,768.86 177.62,768.78 180.96,769.36 184.3,770.34 187.64,770.97 190.98,773.11 194.32,772.73 197.66,773.69 201,774.97 204.34,776.28 207.68,775.08 211.02,774.94 214.36,777.87 217.7,778.01 221.04,778.41 224.38,778.22 227.72,777.98 231.06,778.28 234.4,779.18 237.74,780.1" fill="none" stroke="#b8123c" stroke-width="0.8" stroke-linejoin="round"/>
<path d="M67.4 722.47L68.93 724L67.4 725.53L65.87 724Z" fill="#b8123c"/><path d="M70.74 720.47L72.27 722L70.74 723.53L69.21 722Z" fill="#b8123c"/><path d="M74.08 718.47L75.61 720L74.08 721.53L72.55 720Z" fill="#b8123c"/><path d="M77.42 721.47L78.95 723L77.42 724.53L75.89 723Z" fill="#b8123c"/><path d="M80.76 723.47L82.29 725L80.76 726.53L79.23 725Z" fill="#b8123c"/><path d="M84.1 722.47L85.63 724L84.1 725.53L82.57 724Z" fill="#b8123c"/><path d="M87.44 725.47L88.97 727L87.44 728.53L85.91 727Z" fill="#b8123c"/><path d="M90.78 727.47L92.31 729L90.78 730.53L89.25 729Z" fill="#b8123c"/><path d="M94.12 722.47L95.65 724L94.12 725.53L92.59 724Z" fill="#b8123c"/><path d="M97.46 720.47L98.99 722L97.46 723.53L95.93 722Z" fill="#b8123c"/><path d="M100.8 720.61L102.33 722.14L100.8 723.67L99.27 722.14Z" fill="#b8123c"/><path d="M104.14 729.49L105.67 731.02L104.14 732.55L102.61 731.02Z" fill="#b8123c"/><path d="M107.48 734.95L109.01 736.48L107.48 738.01L105.95 736.48Z" fill="#b8123c"/><path d="M110.82 738.68L112.35 740.21L110.82 741.74L109.29 740.21Z" fill="#b8123c"/><path d="M114.16 742.23L115.69 743.76L114.16 745.29L112.63 743.76Z" fill="#b8123c"/><path d="M117.5 745.52L119.03 747.05L117.5 748.58L115.97 747.05Z" fill="#b8123c"/><path d="M120.84 747.13L122.37 748.66L120.84 750.19L119.31 748.66Z" fill="#b8123c"/><path d="M124.18 750.65L125.71 752.18L124.18 753.71L122.65 752.18Z" fill="#b8123c"/><path d="M127.52 751.16L129.05 752.69L127.52 754.22L125.99 752.69Z" fill="#b8123c"/><path d="M130.86 754.05L132.39 755.58L130.86 757.11L129.33 755.58Z" fill="#b8123c"/><path d="M134.2 756.1L135.73 757.63L134.2 759.16L132.67 757.63Z" fill="#b8123c"/><path d="M137.54 756.91L139.07 758.44L137.54 759.97L136.01 758.44Z" fill="#b8123c"/><path d="M140.88 759.78L142.41 761.31L140.88 762.84L139.35 761.31Z" fill="#b8123c"/><path d="M144.22 759.48L145.75 761.01L144.22 762.54L142.69 761.01Z" fill="#b8123c"/><path d="M147.56 761.22L149.09 762.75L147.56 764.28L146.03 762.75Z" fill="#b8123c"/><path d="M150.9 762.23L152.43 763.76L150.9 765.29L149.37 763.76Z" fill="#b8123c"/><path d="M154.24 761.25L155.77 762.78L154.24 764.31L152.71 762.78Z" fill="#b8123c"/><path d="M157.58 763.77L159.11 765.3L157.58 766.83L156.05 765.3Z" fill="#b8123c"/><path d="M160.92 764.39L162.45 765.92L160.92 767.45L159.39 765.92Z" fill="#b8123c"/><path d="M164.26 764.88L165.79 766.41L164.26 767.94L162.73 766.41Z" fill="#b8123c"/><path d="M167.6 764.07L169.13 765.6L167.6 767.13L166.07 765.6Z" fill="#b8123c"/><path d="M170.94 766.04L172.47 767.57L170.94 769.1L169.41 767.57Z" fill="#b8123c"/><path d="M174.28 767.33L175.81 768.86L174.28 770.39L172.75 768.86Z" fill="#b8123c"/><path d="M177.62 767.25L179.15 768.78L177.62 770.31L176.09 768.78Z" fill="#b8123c"/><path d="M180.96 767.83L182.49 769.36L180.96 770.89L179.43 769.36Z" fill="#b8123c"/><path d="M184.3 768.81L185.83 770.34L184.3 771.87L182.77 770.34Z" fill="#b8123c"/><path d="M187.64 769.44L189.17 770.97L187.64 772.5L186.11 770.97Z" fill="#b8123c"/><path d="M190.98 771.58L192.51 773.11L190.98 774.64L189.45 773.11Z" fill="#b8123c"/><path d="M194.32 771.2L195.85 772.73L194.32 774.26L192.79 772.73Z" fill="#b8123c"/><path d="M197.66 772.16L199.19 773.69L197.66 775.22L196.13 773.69Z" fill="#b8123c"/><path d="M201 773.44L202.53 774.97L201 776.5L199.47 774.97Z" fill="#b8123c"/><path d="M204.34 774.75L205.87 776.28L204.34 777.81L202.81 776.28Z" fill="#b8123c"/><path d="M207.68 773.55L209.21 775.08L207.68 776.61L206.15 775.08Z" fill="#b8123c"/><path d="M211.02 773.41L212.55 774.94L211.02 776.47L209.49 774.94Z" fill="#b8123c"/><path d="M214.36 776.34L215.89 777.87L214.36 779.4L212.83 777.87Z" fill="#b8123c"/><path d="M217.7 776.48L219.23 778.01L217.7 779.54L216.17 778.01Z" fill="#b8123c"/><path d="M221.04 776.88L222.57 778.41L221.04 779.94L219.51 778.41Z" fill="#b8123c"/><path d="M224.38 776.69L225.91 778.22L224.38 779.75L222.85 778.22Z" fill="#b8123c"/><path d="M227.72 776.45L229.25 777.98L227.72 779.51L226.19 777.98Z" fill="#b8123c"/><path d="M231.06 776.75L232.59 778.28L231.06 779.81L229.53 778.28Z" fill="#b8123c"/><path d="M234.4 777.65L235.93 779.18L234.4 780.71L232.87 779.18Z" fill="#b8123c"/><path d="M237.74 778.57L239.27 780.1L237.74 781.63L236.21 780.1Z" fill="#b8123c"/>
<polyline points="67.4,724.68 70.74,725.7 74.08,726.26 77.42,723.84 80.76,725.56 84.1,725.34 87.44,725.18 90.78,723.2 94.12,722.9 97.46,724.18 100.8,725.14 104.14,735.28 107.48,743.32 110.82,747.53 114.16,753.6 117.5,755.68 120.84,756.09 124.18,759.22 127.52,757.38 130.86,759.93 134.2,760.91 137.54,760.72 140.88,763.86 144.22,764.85 147.56,767.05 150.9,766.12 154.24,767.37 157.58,768.66 160.92,768.41 164.26,767.95 167.6,767.75 170.94,770.37 174.28,769.55 177.62,771.5 180.96,769.91 184.3,772.28 187.64,772.91 190.98,773.82 194.32,772.11 197.66,773.66 201,773.4 204.34,775.56 207.68,774.86 211.02,776.76 214.36,775.57 217.7,776.95 221.04,777.52 224.38,776.22 227.72,777.38 231.06,778.76 234.4,777.97 237.74,777.87" fill="none" stroke="#274b9a" stroke-width="0.8" stroke-linejoin="round"/>
<path d="M67.4 726.12L68.76 723.66L66.04 723.66Z" fill="#274b9a"/><path d="M70.74 727.15L72.1 724.68L69.38 724.68Z" fill="#274b9a"/><path d="M74.08 727.7L75.44 725.24L72.72 725.24Z" fill="#274b9a"/><path d="M77.42 725.29L78.78 722.82L76.06 722.82Z" fill="#274b9a"/><path d="M80.76 727L82.12 724.54L79.4 724.54Z" fill="#274b9a"/><path d="M84.1 726.78L85.46 724.32L82.74 724.32Z" fill="#274b9a"/><path d="M87.44 726.63L88.8 724.16L86.08 724.16Z" fill="#274b9a"/><path d="M90.78 724.64L92.14 722.18L89.42 722.18Z" fill="#274b9a"/><path d="M94.12 724.34L95.48 721.88L92.76 721.88Z" fill="#274b9a"/><path d="M97.46 725.63L98.82 723.16L96.1 723.16Z" fill="#274b9a"/><path d="M100.8 726.59L102.16 724.12L99.44 724.12Z" fill="#274b9a"/><path d="M104.14 736.73L105.5 734.26L102.78 734.26Z" fill="#274b9a"/><path d="M107.48 744.76L108.84 742.3L106.12 742.3Z" fill="#274b9a"/><path d="M110.82 748.98L112.18 746.51L109.46 746.51Z" fill="#274b9a"/><path d="M114.16 755.05L115.52 752.58L112.8 752.58Z" fill="#274b9a"/><path d="M117.5 757.12L118.86 754.66L116.14 754.66Z" fill="#274b9a"/><path d="M120.84 757.53L122.2 755.07L119.48 755.07Z" fill="#274b9a"/><path d="M124.18 760.66L125.54 758.2L122.82 758.2Z" fill="#274b9a"/><path d="M127.52 758.83L128.88 756.36L126.16 756.36Z" fill="#274b9a"/><path d="M130.86 761.38L132.22 758.91L129.5 758.91Z" fill="#274b9a"/><path d="M134.2 762.36L135.56 759.89L132.84 759.89Z" fill="#274b9a"/><path d="M137.54 762.17L138.9 759.7L136.18 759.7Z" fill="#274b9a"/><path d="M140.88 765.3L142.24 762.84L139.52 762.84Z" fill="#274b9a"/><path d="M144.22 766.3L145.58 763.83L142.86 763.83Z" fill="#274b9a"/><path d="M147.56 768.5L148.92 766.03L146.2 766.03Z" fill="#274b9a"/><path d="M150.9 767.57L152.26 765.1L149.54 765.1Z" fill="#274b9a"/><path d="M154.24 768.82L155.6 766.35L152.88 766.35Z" fill="#274b9a"/><path d="M157.58 770.1L158.94 767.64L156.22 767.64Z" fill="#274b9a"/><path d="M160.92 769.86L162.28 767.39L159.56 767.39Z" fill="#274b9a"/><path d="M164.26 769.39L165.62 766.93L162.9 766.93Z" fill="#274b9a"/><path d="M167.6 769.2L168.96 766.73L166.24 766.73Z" fill="#274b9a"/><path d="M170.94 771.82L172.3 769.35L169.58 769.35Z" fill="#274b9a"/><path d="M174.28 771L175.64 768.53L172.92 768.53Z" fill="#274b9a"/><path d="M177.62 772.94L178.98 770.48L176.26 770.48Z" fill="#274b9a"/><path d="M180.96 771.35L182.32 768.89L179.6 768.89Z" fill="#274b9a"/><path d="M184.3 773.73L185.66 771.26L182.94 771.26Z" fill="#274b9a"/><path d="M187.64 774.36L189 771.89L186.28 771.89Z" fill="#274b9a"/><path d="M190.98 775.27L192.34 772.8L189.62 772.8Z" fill="#274b9a"/><path d="M194.32 773.55L195.68 771.09L192.96 771.09Z" fill="#274b9a"/><path d="M197.66 775.11L199.02 772.64L196.3 772.64Z" fill="#274b9a"/><path d="M201 774.85L202.36 772.38L199.64 772.38Z" fill="#274b9a"/><path d="M204.34 777L205.7 774.54L202.98 774.54Z" fill="#274b9a"/><path d="M207.68 776.3L209.04 773.84L206.32 773.84Z" fill="#274b9a"/><path d="M211.02 778.21L212.38 775.74L209.66 775.74Z" fill="#274b9a"/><path d="M214.36 777.02L215.72 774.55L213 774.55Z" fill="#274b9a"/><path d="M217.7 778.39L219.06 775.93L216.34 775.93Z" fill="#274b9a"/><path d="M221.04 778.97L222.4 776.5L219.68 776.5Z" fill="#274b9a"/><path d="M224.38 777.67L225.74 775.2L223.02 775.2Z" fill="#274b9a"/><path d="M227.72 778.83L229.08 776.36L226.36 776.36Z" fill="#274b9a"/><path d="M231.06 780.2L232.42 777.74L229.7 777.74Z" fill="#274b9a"/><path d="M234.4 779.41L235.76 776.95L233.04 776.95Z" fill="#274b9a"/><path d="M237.74 779.31L239.1 776.85L236.38 776.85Z" fill="#274b9a"/>
<polyline points="67.4,723.45 70.74,725.18 74.08,724 77.42,723.51 80.76,724.56 84.1,724.58 87.44,724.53 90.78,724.45 94.12,723.75 97.46,723.71 100.8,725 104.14,722.38 107.48,725.53 110.82,728.22 114.16,729.6 117.5,730.98 120.84,730.31 124.18,730.67 127.52,732.32 130.86,732.25 134.2,731.63 137.54,733.22 140.88,734.08 144.22,734.34 147.56,733.08 150.9,733.6 154.24,732.93 157.58,735.54 160.92,733.67 164.26,735.08 167.6,734.68 170.94,734.91 174.28,734.83 177.62,735.7 180.96,735.21 184.3,734.53 187.64,734.13 190.98,735.16 194.32,736.42 197.66,734.49 201,735.98 204.34,735.94 207.68,734.81 211.02,735.03 214.36,736.38 217.7,735.83 221.04,735.85 224.38,736.14 227.72,735.25 231.06,736.92 234.4,736.71 237.74,736.67" fill="none" stroke="#4aa3e6" stroke-width="0.8" stroke-linejoin="round"/>
<rect x="66.3" y="722.35" width="2.21" height="2.21" fill="#4aa3e6"/><rect x="69.64" y="724.08" width="2.21" height="2.21" fill="#4aa3e6"/><rect x="72.98" y="722.9" width="2.21" height="2.21" fill="#4aa3e6"/><rect x="76.31" y="722.41" width="2.21" height="2.21" fill="#4aa3e6"/><rect x="79.66" y="723.46" width="2.21" height="2.21" fill="#4aa3e6"/><rect x="83" y="723.47" width="2.21" height="2.21" fill="#4aa3e6"/><rect x="86.33" y="723.42" width="2.21" height="2.21" fill="#4aa3e6"/><rect x="89.67" y="723.34" width="2.21" height="2.21" fill="#4aa3e6"/><rect x="93.02" y="722.65" width="2.21" height="2.21" fill="#4aa3e6"/><rect x="96.36" y="722.61" width="2.21" height="2.21" fill="#4aa3e6"/><rect x="99.7" y="723.89" width="2.21" height="2.21" fill="#4aa3e6"/><rect x="103.03" y="721.27" width="2.21" height="2.21" fill="#4aa3e6"/><rect x="106.38" y="724.42" width="2.21" height="2.21" fill="#4aa3e6"/><rect x="109.72" y="727.11" width="2.21" height="2.21" fill="#4aa3e6"/><rect x="113.05" y="728.49" width="2.21" height="2.21" fill="#4aa3e6"/><rect x="116.39" y="729.87" width="2.21" height="2.21" fill="#4aa3e6"/><rect x="119.73" y="729.2" width="2.21" height="2.21" fill="#4aa3e6"/><rect x="123.08" y="729.56" width="2.21" height="2.21" fill="#4aa3e6"/><rect x="126.42" y="731.21" width="2.21" height="2.21" fill="#4aa3e6"/><rect x="129.76" y="731.15" width="2.21" height="2.21" fill="#4aa3e6"/><rect x="133.09" y="730.53" width="2.21" height="2.21" fill="#4aa3e6"/><rect x="136.44" y="732.12" width="2.21" height="2.21" fill="#4aa3e6"/><rect x="139.78" y="732.98" width="2.21" height="2.21" fill="#4aa3e6"/><rect x="143.12" y="733.23" width="2.21" height="2.21" fill="#4aa3e6"/><rect x="146.46" y="731.98" width="2.21" height="2.21" fill="#4aa3e6"/><rect x="149.8" y="732.49" width="2.21" height="2.21" fill="#4aa3e6"/><rect x="153.14" y="731.82" width="2.21" height="2.21" fill="#4aa3e6"/><rect x="156.47" y="734.43" width="2.21" height="2.21" fill="#4aa3e6"/><rect x="159.82" y="732.56" width="2.21" height="2.21" fill="#4aa3e6"/><rect x="163.16" y="733.97" width="2.21" height="2.21" fill="#4aa3e6"/><rect x="166.5" y="733.57" width="2.21" height="2.21" fill="#4aa3e6"/><rect x="169.84" y="733.81" width="2.21" height="2.21" fill="#4aa3e6"/><rect x="173.18" y="733.73" width="2.21" height="2.21" fill="#4aa3e6"/><rect x="176.52" y="734.6" width="2.21" height="2.21" fill="#4aa3e6"/><rect x="179.86" y="734.1" width="2.21" height="2.21" fill="#4aa3e6"/><rect x="183.2" y="733.42" width="2.21" height="2.21" fill="#4aa3e6"/><rect x="186.53" y="733.03" width="2.21" height="2.21" fill="#4aa3e6"/><rect x="189.88" y="734.06" width="2.21" height="2.21" fill="#4aa3e6"/><rect x="193.22" y="735.31" width="2.21" height="2.21" fill="#4aa3e6"/><rect x="196.56" y="733.38" width="2.21" height="2.21" fill="#4aa3e6"/><rect x="199.9" y="734.87" width="2.21" height="2.21" fill="#4aa3e6"/><rect x="203.24" y="734.83" width="2.21" height="2.21" fill="#4aa3e6"/><rect x="206.58" y="733.71" width="2.21" height="2.21" fill="#4aa3e6"/><rect x="209.92" y="733.93" width="2.21" height="2.21" fill="#4aa3e6"/><rect x="213.25" y="735.27" width="2.21" height="2.21" fill="#4aa3e6"/><rect x="216.59" y="734.72" width="2.21" height="2.21" fill="#4aa3e6"/><rect x="219.94" y="734.74" width="2.21" height="2.21" fill="#4aa3e6"/><rect x="223.28" y="735.03" width="2.21" height="2.21" fill="#4aa3e6"/><rect x="226.62" y="734.14" width="2.21" height="2.21" fill="#4aa3e6"/><rect x="229.96" y="735.81" width="2.21" height="2.21" fill="#4aa3e6"/><rect x="233.3" y="735.61" width="2.21" height="2.21" fill="#4aa3e6"/><rect x="236.64" y="735.56" width="2.21" height="2.21" fill="#4aa3e6"/>
<line x1="76" y1="799.3" x2="90.1" y2="799.3" stroke="#a5bd78" stroke-width="1.1"/>
<rect x="80.6" y="796.7" width="5.2" height="5.2" fill="#a5bd78"/>
<text x="94.4" y="803" font-size="10.35" fill="#111"><tspan font-size="10.35">Empty</tspan></text>
<line x1="76" y1="812.7" x2="90.1" y2="812.7" stroke="#1f3c86" stroke-width="1.1"/>
<circle cx="83.2" cy="812.7" r="2.84" fill="#1f3c86"/>
<text x="94.4" y="816.4" font-size="10.35" fill="#111"><tspan font-size="10.35">Empty + Ca</tspan><tspan font-size="6.8" dy="2.7">out</tspan></text>
<line x1="76" y1="826.1" x2="90.1" y2="826.1" stroke="#9b8ccc" stroke-width="1.1"/>
<path d="M83.2 822.7L86.4 828.5L80 828.5Z" fill="#9b8ccc"/>
<text x="94.4" y="829.8" font-size="10.35" fill="#111"><tspan font-size="10.35">Empty + Ca</tspan><tspan font-size="6.8" dy="2.7">in</tspan></text>
<line x1="76" y1="839.5" x2="90.1" y2="839.5" stroke="#4a5570" stroke-width="1.1"/>
<path d="M86.6 839.5L80.8 842.7L80.8 836.3Z" fill="#2f3b5a"/>
<text x="94.4" y="843.2" font-size="10.35" fill="#111"><tspan font-size="10.35">Empty + Ca</tspan><tspan font-size="6.8" dy="2.7">in/out</tspan></text>
<line x1="170" y1="799.3" x2="184.1" y2="799.3" stroke="#e48f1e" stroke-width="1.1"/>
<circle cx="177.2" cy="799.3" r="3.24" fill="#e48f1e"/>
<text x="188.6" y="803" font-size="10.35" fill="#111"><tspan font-size="10.35">Fpn</tspan></text>
<line x1="170" y1="812.7" x2="184.1" y2="812.7" stroke="#5ea83c" stroke-width="1.1"/>
<path d="M173.8 812.7L179.6 815.9L179.6 809.5Z" fill="#5ea83c"/>
<text x="188.6" y="816.4" font-size="10.35" fill="#111"><tspan font-size="10.35">Fpn + Ca</tspan><tspan font-size="6.8" dy="2.7">out</tspan></text>
<line x1="170" y1="826.1" x2="184.1" y2="826.1" stroke="#b8123c" stroke-width="1.1"/>
<path d="M177.2 822.5L180.8 826.1L177.2 829.7L173.6 826.1Z" fill="#b8123c"/>
<text x="188.6" y="829.8" font-size="10.35" fill="#111"><tspan font-size="10.35">Fpn + Ca</tspan><tspan font-size="6.8" dy="2.7">in</tspan></text>
<line x1="170" y1="839.5" x2="184.1" y2="839.5" stroke="#4a68a8" stroke-width="1.1"/>
<path d="M177.2 842.9L180.4 837.1L174 837.1Z" fill="#1f3f8a"/>
<text x="188.6" y="843.2" font-size="10.35" fill="#111"><tspan font-size="10.35">Fpn + Ca</tspan><tspan font-size="6.8" dy="2.7">in/out</tspan></text>
<line x1="326.5" y1="709.4" x2="326.5" y2="861.6" stroke="#111" stroke-width="1.3"/>
<line x1="325.9" y1="858.4" x2="506.7" y2="858.4" stroke="#111" stroke-width="1.3"/>
<line x1="322.3" y1="858.4" x2="326.5" y2="858.4" stroke="#111" stroke-width="1.1"/>
<text x="317.8" y="862.7" font-size="10.3" fill="#1a1a1a" text-anchor="end" textLength="21.6" lengthAdjust="spacingAndGlyphs">30%</text>
<line x1="324.3" y1="848.68" x2="326.5" y2="848.68" stroke="#111" stroke-width="1"/>
<line x1="322.3" y1="838.96" x2="326.5" y2="838.96" stroke="#111" stroke-width="1.1"/>
<text x="317.8" y="843.26" font-size="10.3" fill="#1a1a1a" text-anchor="end" textLength="21.6" lengthAdjust="spacingAndGlyphs">40%</text>
<line x1="324.3" y1="829.24" x2="326.5" y2="829.24" stroke="#111" stroke-width="1"/>
<line x1="322.3" y1="819.52" x2="326.5" y2="819.52" stroke="#111" stroke-width="1.1"/>
<text x="317.8" y="823.82" font-size="10.3" fill="#1a1a1a" text-anchor="end" textLength="21.6" lengthAdjust="spacingAndGlyphs">50%</text>
<line x1="324.3" y1="809.8" x2="326.5" y2="809.8" stroke="#111" stroke-width="1"/>
<line x1="322.3" y1="800.08" x2="326.5" y2="800.08" stroke="#111" stroke-width="1.1"/>
<text x="317.8" y="804.38" font-size="10.3" fill="#1a1a1a" text-anchor="end" textLength="21.6" lengthAdjust="spacingAndGlyphs">60%</text>
<line x1="324.3" y1="790.36" x2="326.5" y2="790.36" stroke="#111" stroke-width="1"/>
<line x1="322.3" y1="780.64" x2="326.5" y2="780.64" stroke="#111" stroke-width="1.1"/>
<text x="317.8" y="784.94" font-size="10.3" fill="#1a1a1a" text-anchor="end" textLength="21.6" lengthAdjust="spacingAndGlyphs">70%</text>
<line x1="324.3" y1="770.92" x2="326.5" y2="770.92" stroke="#111" stroke-width="1"/>
<line x1="322.3" y1="761.2" x2="326.5" y2="761.2" stroke="#111" stroke-width="1.1"/>
<text x="317.8" y="765.5" font-size="10.3" fill="#1a1a1a" text-anchor="end" textLength="21.6" lengthAdjust="spacingAndGlyphs">80%</text>
<line x1="324.3" y1="751.48" x2="326.5" y2="751.48" stroke="#111" stroke-width="1"/>
<line x1="322.3" y1="741.76" x2="326.5" y2="741.76" stroke="#111" stroke-width="1.1"/>
<text x="317.8" y="746.06" font-size="10.3" fill="#1a1a1a" text-anchor="end" textLength="21.6" lengthAdjust="spacingAndGlyphs">90%</text>
<line x1="324.3" y1="732.04" x2="326.5" y2="732.04" stroke="#111" stroke-width="1"/>
<line x1="322.3" y1="722.32" x2="326.5" y2="722.32" stroke="#111" stroke-width="1.1"/>
<text x="317.8" y="726.62" font-size="10.3" fill="#1a1a1a" text-anchor="end" textLength="28.6" lengthAdjust="spacingAndGlyphs">100%</text>
<line x1="326.5" y1="858.4" x2="326.5" y2="861.6" stroke="#111" stroke-width="1.1"/>
<text x="326.5" y="876.3" font-size="10.4" fill="#111" text-anchor="middle" textLength="6.5" lengthAdjust="spacingAndGlyphs">0</text>
<line x1="344.15" y1="858.4" x2="344.15" y2="860.2" stroke="#111" stroke-width="1"/>
<line x1="361.8" y1="858.4" x2="361.8" y2="861.6" stroke="#111" stroke-width="1.1"/>
<text x="361.8" y="876.3" font-size="10.4" fill="#111" text-anchor="middle" textLength="6.5" lengthAdjust="spacingAndGlyphs">5</text>
<line x1="379.45" y1="858.4" x2="379.45" y2="860.2" stroke="#111" stroke-width="1"/>
<line x1="397.1" y1="858.4" x2="397.1" y2="861.6" stroke="#111" stroke-width="1.1"/>
<text x="397.1" y="876.3" font-size="10.4" fill="#111" text-anchor="middle" textLength="12.4" lengthAdjust="spacingAndGlyphs">10</text>
<line x1="414.75" y1="858.4" x2="414.75" y2="860.2" stroke="#111" stroke-width="1"/>
<line x1="432.4" y1="858.4" x2="432.4" y2="861.6" stroke="#111" stroke-width="1.1"/>
<text x="432.4" y="876.3" font-size="10.4" fill="#111" text-anchor="middle" textLength="12.4" lengthAdjust="spacingAndGlyphs">15</text>
<line x1="450.05" y1="858.4" x2="450.05" y2="860.2" stroke="#111" stroke-width="1"/>
<line x1="467.7" y1="858.4" x2="467.7" y2="861.6" stroke="#111" stroke-width="1.1"/>
<text x="467.7" y="876.3" font-size="10.4" fill="#111" text-anchor="middle" textLength="12.4" lengthAdjust="spacingAndGlyphs">20</text>
<line x1="485.35" y1="858.4" x2="485.35" y2="860.2" stroke="#111" stroke-width="1"/>
<line x1="503" y1="858.4" x2="503" y2="861.6" stroke="#111" stroke-width="1.1"/>
<text x="503" y="876.3" font-size="10.4" fill="#111" text-anchor="middle" textLength="12.4" lengthAdjust="spacingAndGlyphs">25</text>
<text transform="translate(281.9,783.3) rotate(-90)" x="0" y="0" font-size="12.2" fill="#111" text-anchor="middle" textLength="83.3" lengthAdjust="spacingAndGlyphs" stroke="#111" stroke-width="0.3">Calcein fluorescence</text>
<text x="416" y="894.2" font-size="12" fill="#111" text-anchor="middle" textLength="44.6" lengthAdjust="spacingAndGlyphs" stroke="#111" stroke-width="0.4">Time (min)</text>
<line x1="360.7" y1="704" x2="360.7" y2="712.4" stroke="#333" stroke-width="1.4"/>
<path d="M358.5 711.1L362.9 711.1L360.7 715.9Z" fill="#111"/>
<text x="355.9" y="699.7" font-size="10.2" fill="#de8624" textLength="11.2" lengthAdjust="spacingAndGlyphs">Fe</text>
<text x="366.3" y="695.6" font-size="7.2" fill="#de8624" textLength="9.3" lengthAdjust="spacingAndGlyphs">2+</text>
<polyline points="326.5,726 330.03,724 333.56,722 337.09,721 340.62,723 344.15,721 347.68,720 351.21,721 354.74,721 358.27,719.5 361.8,724.22 365.33,730.34 368.86,733.56 372.39,734.12 375.92,734.44 379.45,736.61 382.98,737.55 386.51,737.8 390.04,738.55 393.57,738.16 397.1,737.85 400.63,738.87 404.16,739.6 407.69,738.76 411.22,740.71 414.75,739.84 418.28,740.2 421.81,740.01 425.34,742.17 428.87,741.65 432.4,742.01 435.93,741.49 439.46,740.27 442.99,740.97 446.52,741.39 450.05,740.61 453.58,742.5 457.11,741.27 460.64,740.85 464.17,742.36 467.7,740.89 471.23,742.72 474.76,741.72 478.29,742 481.82,741.59 485.35,741.95 488.88,741.35 492.41,741.08 495.94,742.95 499.47,741.62 503,742.87 506.53,741.66" fill="none" stroke="#4aa3e6" stroke-width="0.8" stroke-linejoin="round"/>
<rect x="325.39" y="724.89" width="2.21" height="2.21" fill="#4aa3e6"/><rect x="328.92" y="722.89" width="2.21" height="2.21" fill="#4aa3e6"/><rect x="332.45" y="720.89" width="2.21" height="2.21" fill="#4aa3e6"/><rect x="335.98" y="719.89" width="2.21" height="2.21" fill="#4aa3e6"/><rect x="339.51" y="721.89" width="2.21" height="2.21" fill="#4aa3e6"/><rect x="343.04" y="719.89" width="2.21" height="2.21" fill="#4aa3e6"/><rect x="346.57" y="718.89" width="2.21" height="2.21" fill="#4aa3e6"/><rect x="350.1" y="719.89" width="2.21" height="2.21" fill="#4aa3e6"/><rect x="353.63" y="719.89" width="2.21" height="2.21" fill="#4aa3e6"/><rect x="357.16" y="718.39" width="2.21" height="2.21" fill="#4aa3e6"/><rect x="360.69" y="723.12" width="2.21" height="2.21" fill="#4aa3e6"/><rect x="364.22" y="729.24" width="2.21" height="2.21" fill="#4aa3e6"/><rect x="367.75" y="732.45" width="2.21" height="2.21" fill="#4aa3e6"/><rect x="371.28" y="733.01" width="2.21" height="2.21" fill="#4aa3e6"/><rect x="374.81" y="733.34" width="2.21" height="2.21" fill="#4aa3e6"/><rect x="378.34" y="735.51" width="2.21" height="2.21" fill="#4aa3e6"/><rect x="381.88" y="736.45" width="2.21" height="2.21" fill="#4aa3e6"/><rect x="385.4" y="736.7" width="2.21" height="2.21" fill="#4aa3e6"/><rect x="388.94" y="737.45" width="2.21" height="2.21" fill="#4aa3e6"/><rect x="392.46" y="737.05" width="2.21" height="2.21" fill="#4aa3e6"/><rect x="396" y="736.74" width="2.21" height="2.21" fill="#4aa3e6"/><rect x="399.52" y="737.76" width="2.21" height="2.21" fill="#4aa3e6"/><rect x="403.05" y="738.5" width="2.21" height="2.21" fill="#4aa3e6"/><rect x="406.58" y="737.66" width="2.21" height="2.21" fill="#4aa3e6"/><rect x="410.12" y="739.61" width="2.21" height="2.21" fill="#4aa3e6"/><rect x="413.64" y="738.73" width="2.21" height="2.21" fill="#4aa3e6"/><rect x="417.17" y="739.09" width="2.21" height="2.21" fill="#4aa3e6"/><rect x="420.7" y="738.91" width="2.21" height="2.21" fill="#4aa3e6"/><rect x="424.23" y="741.06" width="2.21" height="2.21" fill="#4aa3e6"/><rect x="427.76" y="740.55" width="2.21" height="2.21" fill="#4aa3e6"/><rect x="431.29" y="740.9" width="2.21" height="2.21" fill="#4aa3e6"/><rect x="434.82" y="740.39" width="2.21" height="2.21" fill="#4aa3e6"/><rect x="438.35" y="739.16" width="2.21" height="2.21" fill="#4aa3e6"/><rect x="441.88" y="739.86" width="2.21" height="2.21" fill="#4aa3e6"/><rect x="445.41" y="740.29" width="2.21" height="2.21" fill="#4aa3e6"/><rect x="448.94" y="739.5" width="2.21" height="2.21" fill="#4aa3e6"/><rect x="452.47" y="741.39" width="2.21" height="2.21" fill="#4aa3e6"/><rect x="456" y="740.16" width="2.21" height="2.21" fill="#4aa3e6"/><rect x="459.53" y="739.75" width="2.21" height="2.21" fill="#4aa3e6"/><rect x="463.06" y="741.26" width="2.21" height="2.21" fill="#4aa3e6"/><rect x="466.59" y="739.79" width="2.21" height="2.21" fill="#4aa3e6"/><rect x="470.12" y="741.61" width="2.21" height="2.21" fill="#4aa3e6"/><rect x="473.65" y="740.62" width="2.21" height="2.21" fill="#4aa3e6"/><rect x="477.18" y="740.89" width="2.21" height="2.21" fill="#4aa3e6"/><rect x="480.71" y="740.48" width="2.21" height="2.21" fill="#4aa3e6"/><rect x="484.25" y="740.85" width="2.21" height="2.21" fill="#4aa3e6"/><rect x="487.77" y="740.25" width="2.21" height="2.21" fill="#4aa3e6"/><rect x="491.3" y="739.97" width="2.21" height="2.21" fill="#4aa3e6"/><rect x="494.83" y="741.85" width="2.21" height="2.21" fill="#4aa3e6"/><rect x="498.37" y="740.52" width="2.21" height="2.21" fill="#4aa3e6"/><rect x="501.89" y="741.77" width="2.21" height="2.21" fill="#4aa3e6"/><rect x="505.42" y="740.55" width="2.21" height="2.21" fill="#4aa3e6"/>
<polyline points="326.5,722 330.03,721 333.56,719 337.09,719.5 340.62,722 344.15,727 347.68,726 351.21,723 354.74,721 358.27,719.5 361.8,724.93 365.33,727.05 368.86,729.41 372.39,732.2 375.92,731.05 379.45,731.96 382.98,735.09 386.51,736.39 390.04,739.36 393.57,738.91 397.1,741.51 400.63,740.8 404.16,740.89 407.69,741.46 411.22,741.61 414.75,742.82 418.28,743.04 421.81,742.52 425.34,745.64 428.87,745.38 432.4,745.15 435.93,745.27 439.46,747.1 442.99,746.9 446.52,748.06 450.05,748.08 453.58,748.88 457.11,748.39 460.64,749.06 464.17,749.26 467.7,748.86 471.23,750.66 474.76,749.04 478.29,749.86 481.82,750.03 485.35,749.15 488.88,747.82 492.41,749.11 495.94,748.56 499.47,747.29 503,746.78 506.53,747.67" fill="none" stroke="#9b8ccc" stroke-width="0.8" stroke-linejoin="round"/>
<path d="M326.5 720.55L327.86 723.02L325.14 723.02Z" fill="#9b8ccc"/><path d="M330.03 719.55L331.39 722.02L328.67 722.02Z" fill="#9b8ccc"/><path d="M333.56 717.55L334.92 720.02L332.2 720.02Z" fill="#9b8ccc"/><path d="M337.09 718.05L338.45 720.52L335.73 720.52Z" fill="#9b8ccc"/><path d="M340.62 720.55L341.98 723.02L339.26 723.02Z" fill="#9b8ccc"/><path d="M344.15 725.55L345.51 728.02L342.79 728.02Z" fill="#9b8ccc"/><path d="M347.68 724.55L349.04 727.02L346.32 727.02Z" fill="#9b8ccc"/><path d="M351.21 721.55L352.57 724.02L349.85 724.02Z" fill="#9b8ccc"/><path d="M354.74 719.55L356.1 722.02L353.38 722.02Z" fill="#9b8ccc"/><path d="M358.27 718.05L359.63 720.52L356.91 720.52Z" fill="#9b8ccc"/><path d="M361.8 723.49L363.16 725.95L360.44 725.95Z" fill="#9b8ccc"/><path d="M365.33 725.61L366.69 728.07L363.97 728.07Z" fill="#9b8ccc"/><path d="M368.86 727.97L370.22 730.43L367.5 730.43Z" fill="#9b8ccc"/><path d="M372.39 730.76L373.75 733.22L371.03 733.22Z" fill="#9b8ccc"/><path d="M375.92 729.61L377.28 732.07L374.56 732.07Z" fill="#9b8ccc"/><path d="M379.45 730.51L380.81 732.98L378.09 732.98Z" fill="#9b8ccc"/><path d="M382.98 733.65L384.34 736.11L381.62 736.11Z" fill="#9b8ccc"/><path d="M386.51 734.94L387.87 737.41L385.15 737.41Z" fill="#9b8ccc"/><path d="M390.04 737.91L391.4 740.38L388.68 740.38Z" fill="#9b8ccc"/><path d="M393.57 737.46L394.93 739.93L392.21 739.93Z" fill="#9b8ccc"/><path d="M397.1 740.07L398.46 742.53L395.74 742.53Z" fill="#9b8ccc"/><path d="M400.63 739.35L401.99 741.82L399.27 741.82Z" fill="#9b8ccc"/><path d="M404.16 739.45L405.52 741.91L402.8 741.91Z" fill="#9b8ccc"/><path d="M407.69 740.01L409.05 742.48L406.33 742.48Z" fill="#9b8ccc"/><path d="M411.22 740.16L412.58 742.63L409.86 742.63Z" fill="#9b8ccc"/><path d="M414.75 741.38L416.11 743.84L413.39 743.84Z" fill="#9b8ccc"/><path d="M418.28 741.6L419.64 744.06L416.92 744.06Z" fill="#9b8ccc"/><path d="M421.81 741.08L423.17 743.54L420.45 743.54Z" fill="#9b8ccc"/><path d="M425.34 744.19L426.7 746.66L423.98 746.66Z" fill="#9b8ccc"/><path d="M428.87 743.93L430.23 746.4L427.51 746.4Z" fill="#9b8ccc"/><path d="M432.4 743.7L433.76 746.17L431.04 746.17Z" fill="#9b8ccc"/><path d="M435.93 743.82L437.29 746.29L434.57 746.29Z" fill="#9b8ccc"/><path d="M439.46 745.66L440.82 748.12L438.1 748.12Z" fill="#9b8ccc"/><path d="M442.99 745.45L444.35 747.92L441.63 747.92Z" fill="#9b8ccc"/><path d="M446.52 746.62L447.88 749.08L445.16 749.08Z" fill="#9b8ccc"/><path d="M450.05 746.64L451.41 749.1L448.69 749.1Z" fill="#9b8ccc"/><path d="M453.58 747.43L454.94 749.9L452.22 749.9Z" fill="#9b8ccc"/><path d="M457.11 746.95L458.47 749.41L455.75 749.41Z" fill="#9b8ccc"/><path d="M460.64 747.62L462 750.08L459.28 750.08Z" fill="#9b8ccc"/><path d="M464.17 747.81L465.53 750.28L462.81 750.28Z" fill="#9b8ccc"/><path d="M467.7 747.42L469.06 749.88L466.34 749.88Z" fill="#9b8ccc"/><path d="M471.23 749.22L472.59 751.68L469.87 751.68Z" fill="#9b8ccc"/><path d="M474.76 747.59L476.12 750.06L473.4 750.06Z" fill="#9b8ccc"/><path d="M478.29 748.41L479.65 750.88L476.93 750.88Z" fill="#9b8ccc"/><path d="M481.82 748.58L483.18 751.05L480.46 751.05Z" fill="#9b8ccc"/><path d="M485.35 747.7L486.71 750.17L483.99 750.17Z" fill="#9b8ccc"/><path d="M488.88 746.38L490.24 748.84L487.52 748.84Z" fill="#9b8ccc"/><path d="M492.41 747.67L493.77 750.13L491.05 750.13Z" fill="#9b8ccc"/><path d="M495.94 747.11L497.3 749.58L494.58 749.58Z" fill="#9b8ccc"/><path d="M499.47 745.84L500.83 748.31L498.11 748.31Z" fill="#9b8ccc"/><path d="M503 745.33L504.36 747.8L501.64 747.8Z" fill="#9b8ccc"/><path d="M506.53 746.22L507.89 748.69L505.17 748.69Z" fill="#9b8ccc"/>
<polyline points="326.5,723 330.03,721 333.56,722 337.09,720.5 340.62,725 344.15,730 347.68,729 351.21,725 354.74,721 358.27,719.5 361.8,723.93 365.33,729.55 368.86,736.02 372.39,736.63 375.92,740.13 379.45,741.73 382.98,742.97 386.51,743.09 390.04,744 393.57,744.46 397.1,743.87 400.63,744.86 404.16,746.7 407.69,749.26 411.22,752.2 414.75,753.12 418.28,754.89 421.81,756.46 425.34,755.99 428.87,755.68 432.4,757.64 435.93,757.57 439.46,758.08 442.99,758.35 446.52,759.48 450.05,758.5 453.58,760.03 457.11,759.84 460.64,760.95 464.17,761.8 467.7,761.71 471.23,761.87 474.76,763.38 478.29,764.58 481.82,763.95 485.35,761.76 488.88,760.31 492.41,759.68 495.94,760.04 499.47,760.74 503,762.19 506.53,761.13" fill="none" stroke="#1f3c86" stroke-width="0.8" stroke-linejoin="round"/>
<path d="M326.5 724.45L327.86 721.98L325.14 721.98Z" fill="#1f3c86"/><path d="M330.03 722.45L331.39 719.98L328.67 719.98Z" fill="#1f3c86"/><path d="M333.56 723.45L334.92 720.98L332.2 720.98Z" fill="#1f3c86"/><path d="M337.09 721.95L338.45 719.48L335.73 719.48Z" fill="#1f3c86"/><path d="M340.62 726.45L341.98 723.98L339.26 723.98Z" fill="#1f3c86"/><path d="M344.15 731.45L345.51 728.98L342.79 728.98Z" fill="#1f3c86"/><path d="M347.68 730.45L349.04 727.98L346.32 727.98Z" fill="#1f3c86"/><path d="M351.21 726.45L352.57 723.98L349.85 723.98Z" fill="#1f3c86"/><path d="M354.74 722.45L356.1 719.98L353.38 719.98Z" fill="#1f3c86"/><path d="M358.27 720.95L359.63 718.48L356.91 718.48Z" fill="#1f3c86"/><path d="M361.8 725.38L363.16 722.91L360.44 722.91Z" fill="#1f3c86"/><path d="M365.33 730.99L366.69 728.53L363.97 728.53Z" fill="#1f3c86"/><path d="M368.86 737.46L370.22 735L367.5 735Z" fill="#1f3c86"/><path d="M372.39 738.07L373.75 735.61L371.03 735.61Z" fill="#1f3c86"/><path d="M375.92 741.58L377.28 739.11L374.56 739.11Z" fill="#1f3c86"/><path d="M379.45 743.18L380.81 740.71L378.09 740.71Z" fill="#1f3c86"/><path d="M382.98 744.41L384.34 741.95L381.62 741.95Z" fill="#1f3c86"/><path d="M386.51 744.53L387.87 742.07L385.15 742.07Z" fill="#1f3c86"/><path d="M390.04 745.45L391.4 742.98L388.68 742.98Z" fill="#1f3c86"/><path d="M393.57 745.9L394.93 743.44L392.21 743.44Z" fill="#1f3c86"/><path d="M397.1 745.31L398.46 742.85L395.74 742.85Z" fill="#1f3c86"/><path d="M400.63 746.3L401.99 743.84L399.27 743.84Z" fill="#1f3c86"/><path d="M404.16 748.15L405.52 745.68L402.8 745.68Z" fill="#1f3c86"/><path d="M407.69 750.7L409.05 748.24L406.33 748.24Z" fill="#1f3c86"/><path d="M411.22 753.64L412.58 751.18L409.86 751.18Z" fill="#1f3c86"/><path d="M414.75 754.57L416.11 752.1L413.39 752.1Z" fill="#1f3c86"/><path d="M418.28 756.33L419.64 753.87L416.92 753.87Z" fill="#1f3c86"/><path d="M421.81 757.9L423.17 755.44L420.45 755.44Z" fill="#1f3c86"/><path d="M425.34 757.43L426.7 754.97L423.98 754.97Z" fill="#1f3c86"/><path d="M428.87 757.13L430.23 754.66L427.51 754.66Z" fill="#1f3c86"/><path d="M432.4 759.08L433.76 756.62L431.04 756.62Z" fill="#1f3c86"/><path d="M435.93 759.01L437.29 756.55L434.57 756.55Z" fill="#1f3c86"/><path d="M439.46 759.52L440.82 757.06L438.1 757.06Z" fill="#1f3c86"/><path d="M442.99 759.8L444.35 757.33L441.63 757.33Z" fill="#1f3c86"/><path d="M446.52 760.92L447.88 758.46L445.16 758.46Z" fill="#1f3c86"/><path d="M450.05 759.94L451.41 757.48L448.69 757.48Z" fill="#1f3c86"/><path d="M453.58 761.48L454.94 759.01L452.22 759.01Z" fill="#1f3c86"/><path d="M457.11 761.28L458.47 758.82L455.75 758.82Z" fill="#1f3c86"/><path d="M460.64 762.39L462 759.93L459.28 759.93Z" fill="#1f3c86"/><path d="M464.17 763.25L465.53 760.78L462.81 760.78Z" fill="#1f3c86"/><path d="M467.7 763.15L469.06 760.69L466.34 760.69Z" fill="#1f3c86"/><path d="M471.23 763.31L472.59 760.85L469.87 760.85Z" fill="#1f3c86"/><path d="M474.76 764.83L476.12 762.36L473.4 762.36Z" fill="#1f3c86"/><path d="M478.29 766.03L479.65 763.56L476.93 763.56Z" fill="#1f3c86"/><path d="M481.82 765.39L483.18 762.93L480.46 762.93Z" fill="#1f3c86"/><path d="M485.35 763.2L486.71 760.74L483.99 760.74Z" fill="#1f3c86"/><path d="M488.88 761.76L490.24 759.29L487.52 759.29Z" fill="#1f3c86"/><path d="M492.41 761.12L493.77 758.66L491.05 758.66Z" fill="#1f3c86"/><path d="M495.94 761.49L497.3 759.02L494.58 759.02Z" fill="#1f3c86"/><path d="M499.47 762.18L500.83 759.72L498.11 759.72Z" fill="#1f3c86"/><path d="M503 763.64L504.36 761.17L501.64 761.17Z" fill="#1f3c86"/><path d="M506.53 762.58L507.89 760.11L505.17 760.11Z" fill="#1f3c86"/>
<polyline points="326.5,724 330.03,723 333.56,725 337.09,722 340.62,724 344.15,722 347.68,722 351.21,721 354.74,721 358.27,719.5 361.8,726.86 365.33,733.53 368.86,738.47 372.39,745.24 375.92,746.33 379.45,749.92 382.98,750.45 386.51,753.67 390.04,753.88 393.57,756.63 397.1,757.96 400.63,759.27 404.16,760.98 407.69,764.34 411.22,766.08 414.75,765 418.28,766.73 421.81,768.67 425.34,769.33 428.87,768.91 432.4,768.83 435.93,770.48 439.46,768.8 442.99,770.52 446.52,770.93 450.05,769.65 453.58,770.05 457.11,770.04 460.64,770.59 464.17,770.23 467.7,771.42 471.23,771.52 474.76,770.22 478.29,771.52 481.82,769.74 485.35,769.83 488.88,771.11 492.41,771.44 495.94,771.51 499.47,771.93 503,771.67 506.53,770.39" fill="none" stroke="#d0187a" stroke-width="0.8" stroke-linejoin="round"/>
<path d="M326.5 722.47L328.03 724L326.5 725.53L324.97 724Z" fill="#d0187a"/><path d="M330.03 721.47L331.56 723L330.03 724.53L328.5 723Z" fill="#d0187a"/><path d="M333.56 723.47L335.09 725L333.56 726.53L332.03 725Z" fill="#d0187a"/><path d="M337.09 720.47L338.62 722L337.09 723.53L335.56 722Z" fill="#d0187a"/><path d="M340.62 722.47L342.15 724L340.62 725.53L339.09 724Z" fill="#d0187a"/><path d="M344.15 720.47L345.68 722L344.15 723.53L342.62 722Z" fill="#d0187a"/><path d="M347.68 720.47L349.21 722L347.68 723.53L346.15 722Z" fill="#d0187a"/><path d="M351.21 719.47L352.74 721L351.21 722.53L349.68 721Z" fill="#d0187a"/><path d="M354.74 719.47L356.27 721L354.74 722.53L353.21 721Z" fill="#d0187a"/><path d="M358.27 717.97L359.8 719.5L358.27 721.03L356.74 719.5Z" fill="#d0187a"/><path d="M361.8 725.33L363.33 726.86L361.8 728.39L360.27 726.86Z" fill="#d0187a"/><path d="M365.33 732L366.86 733.53L365.33 735.06L363.8 733.53Z" fill="#d0187a"/><path d="M368.86 736.94L370.39 738.47L368.86 740L367.33 738.47Z" fill="#d0187a"/><path d="M372.39 743.71L373.92 745.24L372.39 746.77L370.86 745.24Z" fill="#d0187a"/><path d="M375.92 744.8L377.45 746.33L375.92 747.86L374.39 746.33Z" fill="#d0187a"/><path d="M379.45 748.39L380.98 749.92L379.45 751.45L377.92 749.92Z" fill="#d0187a"/><path d="M382.98 748.92L384.51 750.45L382.98 751.98L381.45 750.45Z" fill="#d0187a"/><path d="M386.51 752.14L388.04 753.67L386.51 755.2L384.98 753.67Z" fill="#d0187a"/><path d="M390.04 752.35L391.57 753.88L390.04 755.41L388.51 753.88Z" fill="#d0187a"/><path d="M393.57 755.1L395.1 756.63L393.57 758.16L392.04 756.63Z" fill="#d0187a"/><path d="M397.1 756.43L398.63 757.96L397.1 759.49L395.57 757.96Z" fill="#d0187a"/><path d="M400.63 757.74L402.16 759.27L400.63 760.8L399.1 759.27Z" fill="#d0187a"/><path d="M404.16 759.45L405.69 760.98L404.16 762.51L402.63 760.98Z" fill="#d0187a"/><path d="M407.69 762.81L409.22 764.34L407.69 765.87L406.16 764.34Z" fill="#d0187a"/><path d="M411.22 764.55L412.75 766.08L411.22 767.61L409.69 766.08Z" fill="#d0187a"/><path d="M414.75 763.47L416.28 765L414.75 766.53L413.22 765Z" fill="#d0187a"/><path d="M418.28 765.2L419.81 766.73L418.28 768.26L416.75 766.73Z" fill="#d0187a"/><path d="M421.81 767.14L423.34 768.67L421.81 770.2L420.28 768.67Z" fill="#d0187a"/><path d="M425.34 767.8L426.87 769.33L425.34 770.86L423.81 769.33Z" fill="#d0187a"/><path d="M428.87 767.38L430.4 768.91L428.87 770.44L427.34 768.91Z" fill="#d0187a"/><path d="M432.4 767.3L433.93 768.83L432.4 770.36L430.87 768.83Z" fill="#d0187a"/><path d="M435.93 768.95L437.46 770.48L435.93 772.01L434.4 770.48Z" fill="#d0187a"/><path d="M439.46 767.27L440.99 768.8L439.46 770.33L437.93 768.8Z" fill="#d0187a"/><path d="M442.99 768.99L444.52 770.52L442.99 772.05L441.46 770.52Z" fill="#d0187a"/><path d="M446.52 769.4L448.05 770.93L446.52 772.46L444.99 770.93Z" fill="#d0187a"/><path d="M450.05 768.12L451.58 769.65L450.05 771.18L448.52 769.65Z" fill="#d0187a"/><path d="M453.58 768.52L455.11 770.05L453.58 771.58L452.05 770.05Z" fill="#d0187a"/><path d="M457.11 768.51L458.64 770.04L457.11 771.57L455.58 770.04Z" fill="#d0187a"/><path d="M460.64 769.06L462.17 770.59L460.64 772.12L459.11 770.59Z" fill="#d0187a"/><path d="M464.17 768.7L465.7 770.23L464.17 771.76L462.64 770.23Z" fill="#d0187a"/><path d="M467.7 769.89L469.23 771.42L467.7 772.95L466.17 771.42Z" fill="#d0187a"/><path d="M471.23 769.99L472.76 771.52L471.23 773.05L469.7 771.52Z" fill="#d0187a"/><path d="M474.76 768.69L476.29 770.22L474.76 771.75L473.23 770.22Z" fill="#d0187a"/><path d="M478.29 769.99L479.82 771.52L478.29 773.05L476.76 771.52Z" fill="#d0187a"/><path d="M481.82 768.21L483.35 769.74L481.82 771.27L480.29 769.74Z" fill="#d0187a"/><path d="M485.35 768.3L486.88 769.83L485.35 771.36L483.82 769.83Z" fill="#d0187a"/><path d="M488.88 769.58L490.41 771.11L488.88 772.64L487.35 771.11Z" fill="#d0187a"/><path d="M492.41 769.91L493.94 771.44L492.41 772.97L490.88 771.44Z" fill="#d0187a"/><path d="M495.94 769.98L497.47 771.51L495.94 773.04L494.41 771.51Z" fill="#d0187a"/><path d="M499.47 770.4L501 771.93L499.47 773.46L497.94 771.93Z" fill="#d0187a"/><path d="M503 770.14L504.53 771.67L503 773.2L501.47 771.67Z" fill="#d0187a"/><path d="M506.53 768.86L508.06 770.39L506.53 771.92L505 770.39Z" fill="#d0187a"/>
<polyline points="326.5,720 330.03,719 333.56,719 337.09,721 340.62,723 344.15,724 347.68,724 351.21,722 354.74,720 358.27,719.5 361.8,728.6 365.33,737.7 368.86,743.92 372.39,748.34 375.92,754.72 379.45,759.14 382.98,761.93 386.51,766.77 390.04,768.08 393.57,770.3 397.1,770.99 400.63,772.52 404.16,775.6 407.69,779.92 411.22,780.93 414.75,780.92 418.28,782.23 421.81,782.1 425.34,782.11 428.87,781.16 432.4,782 435.93,782.7 439.46,782.36 442.99,784.73 446.52,784.44 450.05,783.72 453.58,785.28 457.11,785.41 460.64,785.42 464.17,785.85 467.7,787.01 471.23,786.65 474.76,788.24 478.29,788.63 481.82,788.2 485.35,790.13 488.88,788.59 492.41,789.17 495.94,790.88 499.47,789.86 503,790.6 506.53,791.13" fill="none" stroke="#e48f1e" stroke-width="0.8" stroke-linejoin="round"/>
<circle cx="326.5" cy="720" r="1.15" fill="#e48f1e"/><circle cx="330.03" cy="719" r="1.15" fill="#e48f1e"/><circle cx="333.56" cy="719" r="1.15" fill="#e48f1e"/><circle cx="337.09" cy="721" r="1.15" fill="#e48f1e"/><circle cx="340.62" cy="723" r="1.15" fill="#e48f1e"/><circle cx="344.15" cy="724" r="1.15" fill="#e48f1e"/><circle cx="347.68" cy="724" r="1.15" fill="#e48f1e"/><circle cx="351.21" cy="722" r="1.15" fill="#e48f1e"/><circle cx="354.74" cy="720" r="1.15" fill="#e48f1e"/><circle cx="358.27" cy="719.5" r="1.15" fill="#e48f1e"/><circle cx="361.8" cy="728.6" r="1.15" fill="#e48f1e"/><circle cx="365.33" cy="737.7" r="1.15" fill="#e48f1e"/><circle cx="368.86" cy="743.92" r="1.15" fill="#e48f1e"/><circle cx="372.39" cy="748.34" r="1.15" fill="#e48f1e"/><circle cx="375.92" cy="754.72" r="1.15" fill="#e48f1e"/><circle cx="379.45" cy="759.14" r="1.15" fill="#e48f1e"/><circle cx="382.98" cy="761.93" r="1.15" fill="#e48f1e"/><circle cx="386.51" cy="766.77" r="1.15" fill="#e48f1e"/><circle cx="390.04" cy="768.08" r="1.15" fill="#e48f1e"/><circle cx="393.57" cy="770.3" r="1.15" fill="#e48f1e"/><circle cx="397.1" cy="770.99" r="1.15" fill="#e48f1e"/><circle cx="400.63" cy="772.52" r="1.15" fill="#e48f1e"/><circle cx="404.16" cy="775.6" r="1.15" fill="#e48f1e"/><circle cx="407.69" cy="779.92" r="1.15" fill="#e48f1e"/><circle cx="411.22" cy="780.93" r="1.15" fill="#e48f1e"/><circle cx="414.75" cy="780.92" r="1.15" fill="#e48f1e"/><circle cx="418.28" cy="782.23" r="1.15" fill="#e48f1e"/><circle cx="421.81" cy="782.1" r="1.15" fill="#e48f1e"/><circle cx="425.34" cy="782.11" r="1.15" fill="#e48f1e"/><circle cx="428.87" cy="781.16" r="1.15" fill="#e48f1e"/><circle cx="432.4" cy="782" r="1.15" fill="#e48f1e"/><circle cx="435.93" cy="782.7" r="1.15" fill="#e48f1e"/><circle cx="439.46" cy="782.36" r="1.15" fill="#e48f1e"/><circle cx="442.99" cy="784.73" r="1.15" fill="#e48f1e"/><circle cx="446.52" cy="784.44" r="1.15" fill="#e48f1e"/><circle cx="450.05" cy="783.72" r="1.15" fill="#e48f1e"/><circle cx="453.58" cy="785.28" r="1.15" fill="#e48f1e"/><circle cx="457.11" cy="785.41" r="1.15" fill="#e48f1e"/><circle cx="460.64" cy="785.42" r="1.15" fill="#e48f1e"/><circle cx="464.17" cy="785.85" r="1.15" fill="#e48f1e"/><circle cx="467.7" cy="787.01" r="1.15" fill="#e48f1e"/><circle cx="471.23" cy="786.65" r="1.15" fill="#e48f1e"/><circle cx="474.76" cy="788.24" r="1.15" fill="#e48f1e"/><circle cx="478.29" cy="788.63" r="1.15" fill="#e48f1e"/><circle cx="481.82" cy="788.2" r="1.15" fill="#e48f1e"/><circle cx="485.35" cy="790.13" r="1.15" fill="#e48f1e"/><circle cx="488.88" cy="788.59" r="1.15" fill="#e48f1e"/><circle cx="492.41" cy="789.17" r="1.15" fill="#e48f1e"/><circle cx="495.94" cy="790.88" r="1.15" fill="#e48f1e"/><circle cx="499.47" cy="789.86" r="1.15" fill="#e48f1e"/><circle cx="503" cy="790.6" r="1.15" fill="#e48f1e"/><circle cx="506.53" cy="791.13" r="1.15" fill="#e48f1e"/>
<line x1="333.5" y1="793.7" x2="347.8" y2="793.7" stroke="#4aa3e6" stroke-width="1.1"/>
<rect x="337.8" y="791.1" width="5.2" height="5.2" fill="#4aa3e6"/>
<text x="352" y="797.4" font-size="10.5" fill="#111"><tspan font-size="10.5">Empty + pH 8</tspan><tspan font-size="6.6" dy="2.7">in</tspan><tspan font-size="10.5" dy="-2.7">/8</tspan><tspan font-size="6.6" dy="2.7">out</tspan></text>
<line x1="333.5" y1="807.8" x2="347.8" y2="807.8" stroke="#9b8ccc" stroke-width="1.1"/>
<path d="M340.4 804.4L343.6 810.2L337.2 810.2Z" fill="#9b8ccc"/>
<text x="352" y="811.5" font-size="10.5" fill="#111"><tspan font-size="10.5">Fpn + pH 8</tspan><tspan font-size="6.6" dy="2.7">in</tspan><tspan font-size="10.5" dy="-2.7">/8</tspan><tspan font-size="6.6" dy="2.7">out</tspan></text>
<line x1="333.5" y1="821.9" x2="347.8" y2="821.9" stroke="#1f3c86" stroke-width="1.1"/>
<path d="M340.4 825.3L343.6 819.5L337.2 819.5Z" fill="#1f3c86"/>
<text x="352" y="825.6" font-size="10.5" fill="#111"><tspan font-size="10.5">Fpn + pH 8</tspan><tspan font-size="6.6" dy="2.7">in</tspan><tspan font-size="10.5" dy="-2.7">/6</tspan><tspan font-size="6.6" dy="2.7">out</tspan></text>
<line x1="333.5" y1="835.7" x2="347.8" y2="835.7" stroke="#b8123c" stroke-width="1.1"/>
<path d="M340.4 832.1L344 835.7L340.4 839.3L336.8 835.7Z" fill="#b8123c"/>
<text x="352" y="839.4" font-size="10.5" fill="#111"><tspan font-size="10.5">Fpn + Ca</tspan><tspan font-size="6.6" dy="2.7">in</tspan></text>
<line x1="333.5" y1="849" x2="347.8" y2="849" stroke="#e48f1e" stroke-width="1.1"/>
<circle cx="340.4" cy="849" r="3.24" fill="#e48f1e"/>
<text x="352" y="852.7" font-size="10.5" fill="#111"><tspan font-size="10.5">Fpn + pH 8</tspan><tspan font-size="6.6" dy="2.7">in</tspan><tspan font-size="10.5" dy="-2.7">/6</tspan><tspan font-size="6.6" dy="2.7">out</tspan><tspan font-size="10.5" dy="-2.7"> + Ca</tspan><tspan font-size="6.6" dy="2.7">in</tspan></text>
</svg></body></html>
